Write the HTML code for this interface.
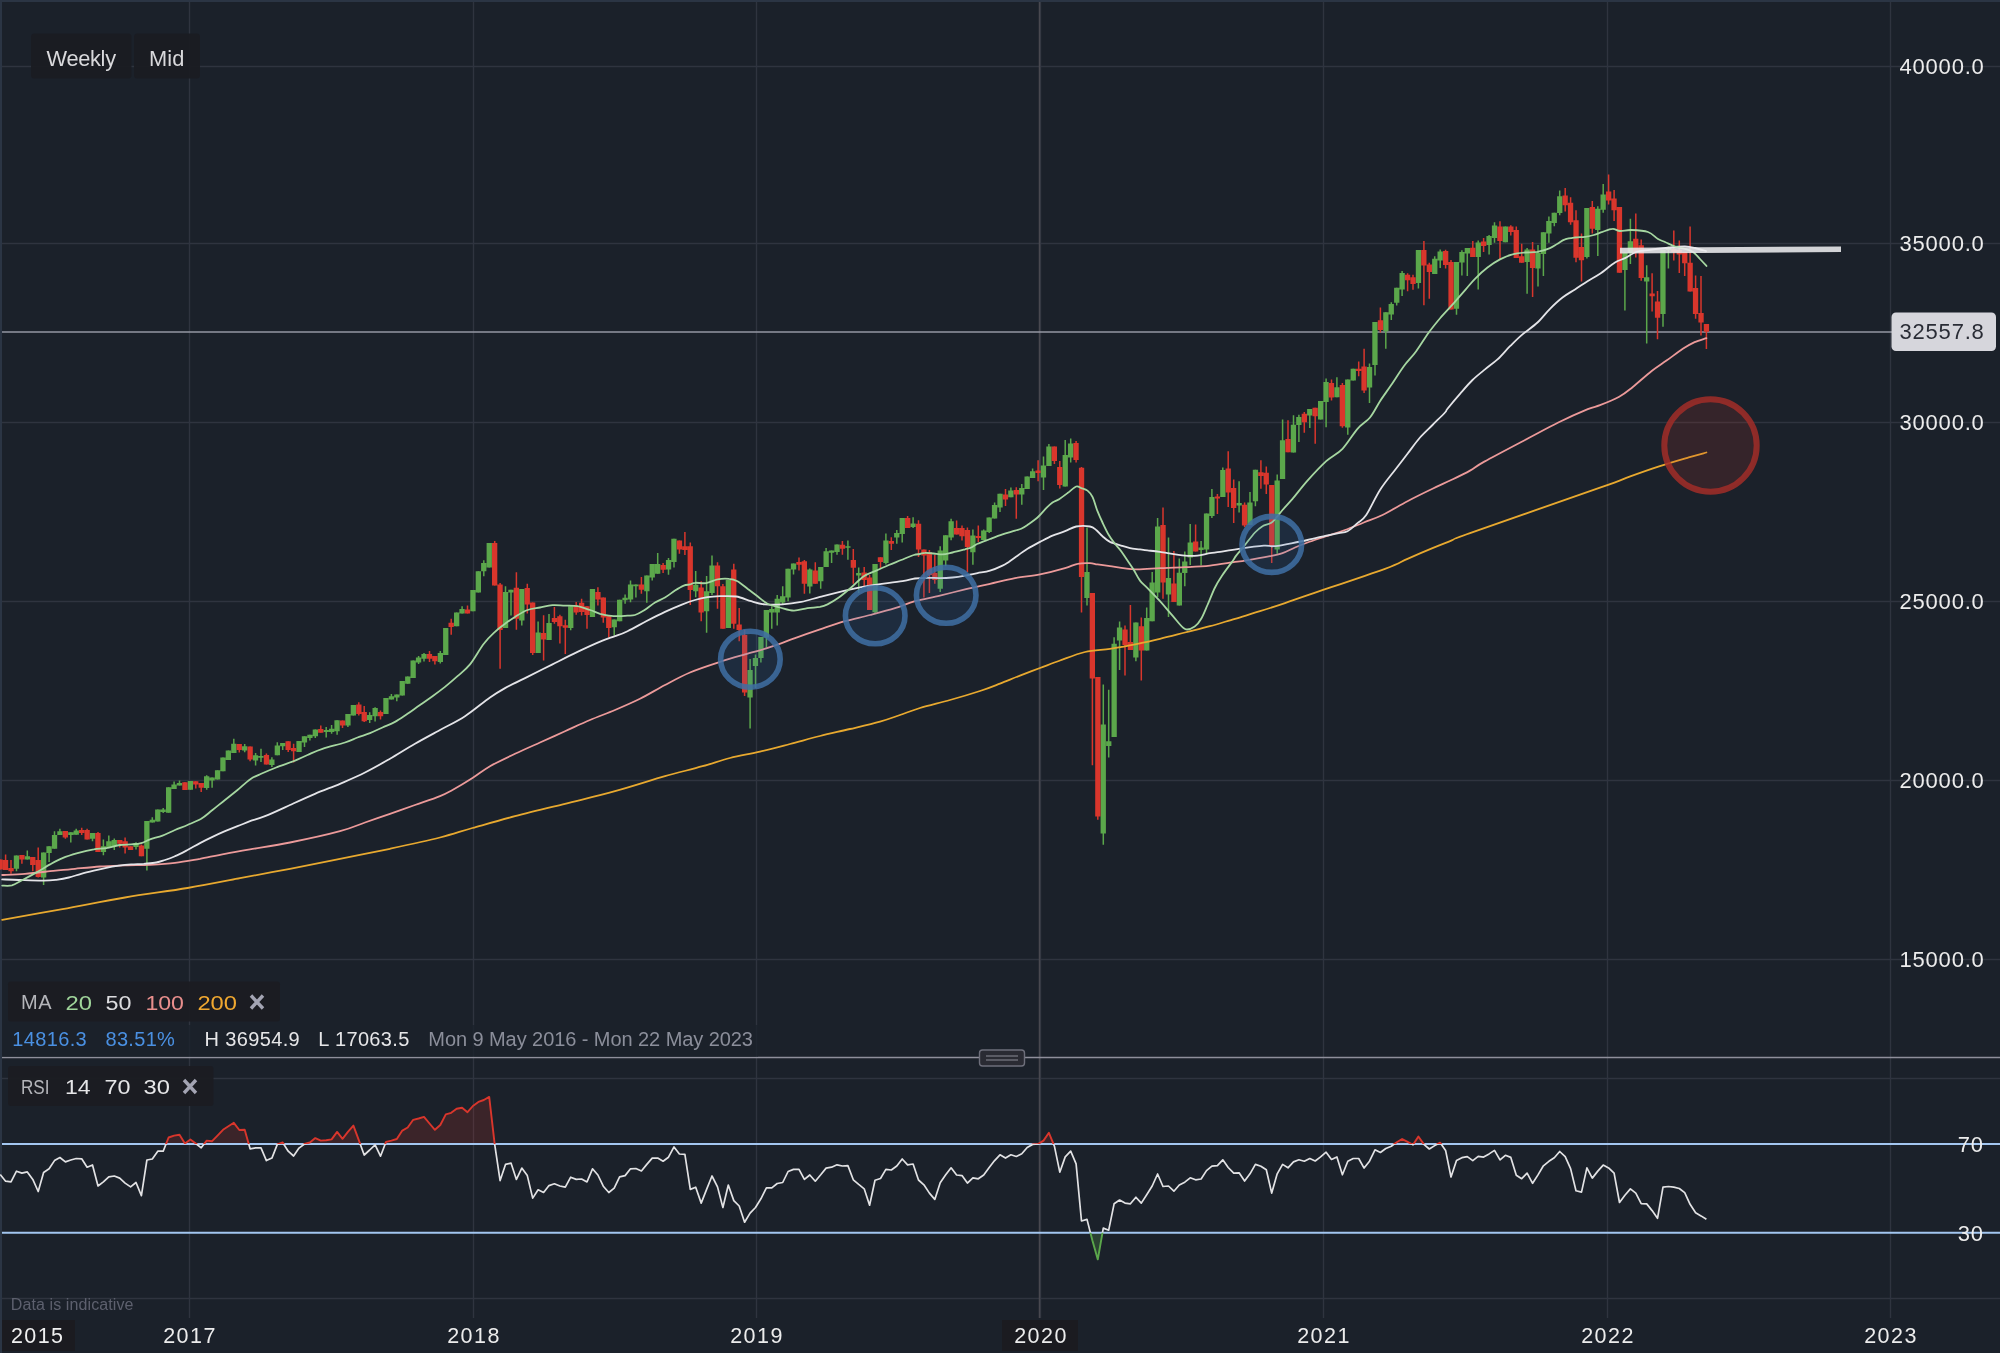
<!DOCTYPE html>
<html><head><meta charset="utf-8"><title>Wall Street weekly chart</title>
<style>html,body{margin:0;padding:0;background:#1b212a;width:2000px;height:1353px;overflow:hidden}
svg text{font-family:"Liberation Sans",sans-serif}</style></head>
<body>
<svg width="2000" height="1353" viewBox="0 0 2000 1353" style="display:block">
<rect width="2000" height="1353" fill="#1b212a"/>
<rect x="0" y="0" width="2000" height="2" fill="#2b3544"/>
<rect x="0" y="0" width="2" height="1353" fill="#2b3544"/>
<defs><filter id="idf" x="-5%" y="-50%" width="110%" height="200%" color-interpolation-filters="sRGB"><feOffset dx="0" dy="0"/></filter></defs>
<path d="M189.5,2V1318M473.5,2V1318M756.5,2V1318M1040.5,2V1318M1323.5,2V1318M1607.5,2V1318M1890.5,2V1318M2,66.5H2000M2,243.5H2000M2,422.5H2000M2,601.5H2000M2,780.5H2000M2,959.5H2000M2,1078.5H2000M2,1298.5H2000" stroke="#2f343f" stroke-width="1.35" fill="none"/>
<path d="M1039.5,2V1318" stroke="#48484f" stroke-width="1.5" fill="none"/>
<path d="M2,332H1892" stroke="#9497a3" stroke-width="1.4" fill="none"/>
<path d="M16.5,855.6V871.2M27.3,850.6V859.4M43.6,852.5V885M49.1,846.2V861.9M54.5,831.2V848.8M59.9,828.8V835M70.8,832.2V842.5M76.2,828.8V834.8M92.5,833.1V841.2M103.4,839.4V855.2M108.8,835.6V847.5M114.3,838.5V850M136,842.2V849.4M146.9,821V870.6M152.3,817.2V822.5M157.8,809.4V821.5M163.2,808.1V813.1M168.6,787.2V812.8M174.1,781.5V789M179.5,780.6V785.6M190.4,781V789.8M206.7,775.2V789.8M212.1,777.5V787.8M217.5,770.2V779.4M223,757.5V771.2M228.4,750.6V760M233.8,738.8V753.1M244.7,744V752.2M255.6,753.1V765.6M261,748.8V761.9M271.9,757.2V766.9M277.3,742.2V755.2M282.7,743.1V750M299,741V751.9M304.5,736.2V746.9M309.9,734.8V740.6M315.3,729.4V738.1M326.2,726.9V737.5M331.6,725V733.8M337.1,720.2V734.8M347.9,714V726.9M353.4,705V715.6M369.7,712.2V723.1M375.1,707.2V721.5M386,698.1V714M391.4,694V699.4M396.8,694.4V701.2M402.3,681V695.6M407.7,676.5V683.8M413.2,660.6V678.1M418.6,656V664M424,653.1V661.5M440.3,651V663.5M445.8,628.1V655M456.6,612.5V626.2M462.1,606.2V613.5M472.9,590V611.2M478.4,571.2V592.5M483.8,560.2V576.2M489.2,543.1V567.5M505.5,586.2V628.1M511,589.8V615.6M521.8,589V625.6M538.1,621.5V653.1M549,614V640M570.7,606.2V630.2M592.5,589V616.9M614.2,619.4V635.6M619.6,599.8V621.2M625.1,594.4V603.8M630.5,580.6V602.2M635.9,584.4V597.5M646.8,575.6V602.8M652.2,564V580.6M657.7,553.1V573.8M668.5,558.1V574.8M674,538.8V567.5M695.7,571V597.2M706.6,576V632.8M712,555.6V595M728.3,580V628.1M750.1,659V728.5M755.5,654.5V688M760.9,637V662.5M766.4,610V646.9M771.8,606.2V628.8M777.2,595V625.6M782.7,586.2V605M788.1,568.8V601.2M793.5,563.5V574.4M809.8,568.5V593.5M820.7,566.9V588.8M826.1,548.1V566.9M831.6,550.6V563.1M837,544.4V554.8M847.9,540.6V559.8M858.7,567.5V593.1M875,564V613.1M885.9,533.5V564.4M896.8,530V543.8M902.2,518.1V542.5M913.1,517.2V528.1M940.2,546.2V591.9M945.7,535.2V566.2M951.1,518.8V540.2M972.9,529.4V564.8M983.7,529.4V540M989.2,517.5V533.1M994.6,502.5V518.5M1000,493.8V511.9M1010.9,487.5V497.2M1021.8,484V504.8M1027.2,476.5V489M1032.6,468.5V478.1M1043.5,456.5V490M1048.9,444V466M1065.2,440V486.5M1070.7,438.5V462.5M1087,527.5V605.6M1103.3,684.6V844.7M1108.7,689.8V757.6M1114.1,637.2V737M1119.6,621.5V670M1135.9,622.5V661.2M1146.7,607.5V650.6M1152.2,571.9V621.2M1157.6,518V596.9M1168.5,537.5V616.9M1179.3,558.5V605.6M1184.8,551.5V586.2M1190.2,524V565M1201.1,541V565.6M1206.5,513.5V554M1211.9,489V518M1222.8,467.5V496.9M1239.1,481.2V512.5M1250,491.9V525M1255.4,469.8V506.2M1277.2,474.4V553.8M1282.6,419.4V479M1293.5,415.2V452.5M1298.9,414.8V441.9M1309.8,409V428.1M1320.6,401V419.4M1326.1,378.5V427.2M1336.9,377.2V397.2M1347.8,379.4V434.8M1353.2,368.8V380.6M1369.5,363.5V403.1M1375,321.9V375.6M1385.8,312.2V348.8M1391.3,302.2V320M1396.7,287.8V305.6M1402.1,271V296M1418.4,250V288.5M1434.7,256.2V274M1440.2,249.4V268.1M1456.5,261.9V314.8M1461.9,250.2V275.6M1467.3,248.1V276M1478.2,240.6V289.4M1489.1,235V254.4M1494.5,222.2V242.8M1505.4,226.5V242.2M1527.1,248.1V293.8M1538,245V286.5M1543.4,232.2V276M1548.9,216.5V242.8M1554.3,212.8V226.2M1559.7,190.6V215.2M1586.9,208.1V258.5M1597.8,206.2V256M1603.2,184V212.8M1624.9,252.5V310.5M1630.4,218.8V264M1646.7,265.2V343.6M1663,250V326.8M1668.4,246.5V268.5" stroke="#5ba74b" stroke-width="1.5" fill="none"/>
<path d="M0.2,859.4V869.4M5.6,854.4V870M11,860V873.8M21.9,855V863.8M32.8,856.9V871.2M38.2,847.5V877.5M65.4,831V838.8M81.7,827.8V835M87.1,828.8V839.4M98,831.9V851.9M119.7,840V847.5M125.1,837.5V853.5M130.6,846.2V850M141.4,844.4V856.2M184.9,782.2V790M195.8,781.2V788.5M201.2,783.1V791.9M239.3,744V752.5M250.1,746.5V761.2M266.4,753.5V764.4M288.2,741.2V751.9M293.6,743.8V762.5M320.8,725.6V732.8M342.5,720.6V728.1M358.8,702.2V715.6M364.2,706V721.9M380.5,710.6V719.4M429.5,651V661.9M434.9,656V664.4M451.2,618.8V634.8M467.5,605.6V613.5M494.7,541V585.6M500.1,583.1V668.8M516.4,572.2V629.8M527.3,583.8V613.5M532.7,602.5V655M543.6,615.2V660.6M554.4,606.9V623.8M559.9,614.8V643.5M565.3,619.8V654M576.2,601.9V614.8M581.6,598.8V615.6M587,606.2V628.8M597.9,587.2V605.6M603.3,597.5V622.8M608.8,615.6V637.5M641.4,576.9V593.8M663.1,563.1V573.1M679.4,540.6V553.8M684.9,531.9V555M690.3,542.5V605M701.2,581.2V621.2M717.5,562.2V608.8M722.9,584V628.8M733.8,563.8V628.8M739.2,608.1V641.2M744.6,630V696M799,557.5V570.6M804.4,560V593.8M815.3,562.2V583.8M842.4,541V554.8M853.3,549V583.8M864.2,566.9V586.2M869.6,575V610M880.5,557.2V568.8M891.3,537.2V550M907.6,516V528.1M918.5,520.2V556.9M923.9,549.4V597.5M929.4,550V593.1M934.8,555V583.8M956.6,520.6V534.4M962,525.6V540.6M967.4,527.5V571.9M978.3,525.4V541.9M1005.5,489V506M1016.3,487.2V518.8M1038.1,460.2V481.2M1054.4,446.5V464M1059.8,461V488.5M1076.1,441V462.5M1081.5,466.9V612.5M1092.4,593.1V765.3M1097.8,676.9V819.8M1125,625.6V675.6M1130.4,605V650M1141.3,617.5V680.6M1163,507.5V598.8M1173.9,551V601.9M1195.6,524.5V551.4M1217.4,494V514M1228.2,451.2V506.9M1233.7,479.4V523.1M1244.6,502.5V526.9M1260.9,460.2V488.8M1266.3,466.5V494M1271.7,485V563.1M1288,420.2V452.2M1304.3,411.9V432.8M1315.2,407.8V443.8M1331.5,379.4V400.6M1342.4,383.1V427.8M1358.7,361.5V376.2M1364.1,348.8V393.1M1380.4,307.5V332.5M1407.6,273.2V291.2M1413,274.8V289.8M1423.9,241V305.2M1429.3,262.8V298.8M1445.6,249.8V268.5M1451,260V309.4M1472.8,241V256.9M1483.6,238.1V251.9M1500,221.2V259M1510.8,225.2V235.6M1516.3,226.5V258.1M1521.7,243.8V262.8M1532.6,241.9V296.9M1565.2,188.1V211.5M1570.6,197.2V224.8M1576,210.2V262.2M1581.5,233.5V281.5M1592.3,201V233.5M1608.6,174.4V204.4M1614.1,190V221M1619.5,206.9V272.8M1635.8,213.5V257.5M1641.2,239.5V280.8M1652.1,273.2V311.5M1657.5,291V339.2M1673.8,230.5V260.5M1679.3,240.5V273M1684.7,252V276M1690.1,226.5V291.5M1695.6,275.5V318.8M1701,276V335.5M1706.4,324V349" stroke="#d9362c" stroke-width="1.5" fill="none"/>
<path d="M13.8,855.6h5.3V868.8h-5.3zM24.7,856.2h5.3V859.4h-5.3zM41,852.5h5.3V877.5h-5.3zM46.4,846.2h5.3V853.1h-5.3zM51.9,835h5.3V848.8h-5.3zM57.3,831.2h5.3V835h-5.3zM68.2,832.2h5.3V835h-5.3zM73.6,830.6h5.3V834.8h-5.3zM89.9,833.1h5.3V838.8h-5.3zM100.8,846.2h5.3V851.9h-5.3zM106.2,841.2h5.3V847.5h-5.3zM111.6,840h5.3V846.2h-5.3zM133.4,843.1h5.3V846.9h-5.3zM144.2,821h5.3V848.8h-5.3zM149.7,819.8h5.3V822.5h-5.3zM155.1,809.4h5.3V821.5h-5.3zM160.5,809.4h5.3V811.9h-5.3zM166,787.2h5.3V812.8h-5.3zM171.4,784.4h5.3V789h-5.3zM176.8,783.1h5.3V785.6h-5.3zM187.7,781h5.3V789.8h-5.3zM204,776.2h5.3V788.1h-5.3zM209.4,777.5h5.3V780.6h-5.3zM214.9,770.2h5.3V779.4h-5.3zM220.3,757.5h5.3V771.2h-5.3zM225.7,750.6h5.3V760h-5.3zM231.2,743.8h5.3V753.1h-5.3zM242,746.2h5.3V750.6h-5.3zM252.9,755.2h5.3V760.6h-5.3zM258.3,756h5.3V757.8h-5.3zM269.2,759.4h5.3V765h-5.3zM274.7,745.6h5.3V755.2h-5.3zM280.1,743.1h5.3V746.2h-5.3zM296.4,741h5.3V751.9h-5.3zM301.8,736.2h5.3V742.5h-5.3zM307.3,734.8h5.3V738.1h-5.3zM312.7,729.4h5.3V736.2h-5.3zM323.6,730h5.3V731.9h-5.3zM329,728.8h5.3V731.9h-5.3zM334.4,720.2h5.3V731.2h-5.3zM345.3,714h5.3V725.6h-5.3zM350.7,705h5.3V715.6h-5.3zM367,715h5.3V720h-5.3zM372.5,708.1h5.3V716.2h-5.3zM383.3,698.1h5.3V714h-5.3zM388.8,696.2h5.3V699.4h-5.3zM394.2,694.4h5.3V697.5h-5.3zM399.6,681h5.3V695.6h-5.3zM405.1,676.5h5.3V683.8h-5.3zM410.5,660.6h5.3V678.1h-5.3zM415.9,657.5h5.3V662.5h-5.3zM421.4,654h5.3V658.8h-5.3zM437.7,653.1h5.3V661.9h-5.3zM443.1,628.1h5.3V655h-5.3zM454,612.5h5.3V626.2h-5.3zM459.4,609h5.3V613.5h-5.3zM470.3,590h5.3V611.2h-5.3zM475.7,571.2h5.3V592.5h-5.3zM481.1,563.1h5.3V571.2h-5.3zM486.6,543.1h5.3V567.5h-5.3zM502.9,591.9h5.3V628.1h-5.3zM508.3,589.8h5.3V592.5h-5.3zM519.2,589h5.3V620.6h-5.3zM535.5,632.5h5.3V653.1h-5.3zM546.4,623.1h5.3V640h-5.3zM568.1,606.2h5.3V628.1h-5.3zM589.8,589h5.3V616.9h-5.3zM611.6,619.4h5.3V627.2h-5.3zM617,599.8h5.3V621.2h-5.3zM622.4,597.8h5.3V600.2h-5.3zM627.9,584.4h5.3V599.4h-5.3zM633.3,584.4h5.3V586.2h-5.3zM644.2,575.6h5.3V591.2h-5.3zM649.6,564h5.3V577.5h-5.3zM655,564h5.3V573.8h-5.3zM665.9,560h5.3V569.4h-5.3zM671.3,538.8h5.3V561.9h-5.3zM693.1,584.8h5.3V591.2h-5.3zM703.9,591.2h5.3V611.2h-5.3zM709.4,565.6h5.3V593.1h-5.3zM725.7,580h5.3V628.1h-5.3zM747.4,670h5.3V697.5h-5.3zM752.8,658h5.3V666h-5.3zM758.3,637h5.3V658h-5.3zM763.7,610h5.3V637.5h-5.3zM769.1,609h5.3V612.5h-5.3zM774.6,598.8h5.3V612.5h-5.3zM780,596.2h5.3V602.5h-5.3zM785.4,568.8h5.3V597.5h-5.3zM790.9,563.5h5.3V569.4h-5.3zM807.2,569.4h5.3V586.5h-5.3zM818.1,566.9h5.3V581.2h-5.3zM823.5,551.2h5.3V566.9h-5.3zM828.9,550.6h5.3V552.8h-5.3zM834.4,544.4h5.3V551.9h-5.3zM845.2,546.2h5.3V547.8h-5.3zM856.1,573.1h5.3V575.6h-5.3zM872.4,564h5.3V612.2h-5.3zM883.3,540.6h5.3V563.1h-5.3zM894.1,533.1h5.3V537.5h-5.3zM899.6,518.1h5.3V534h-5.3zM910.4,523.5h5.3V526.9h-5.3zM937.6,550.6h5.3V588.8h-5.3zM943,535.2h5.3V560.6h-5.3zM948.5,521.2h5.3V537.5h-5.3zM970.2,535.6h5.3V552.2h-5.3zM981.1,530.6h5.3V540h-5.3zM986.5,517.5h5.3V531.9h-5.3zM991.9,505h5.3V518.5h-5.3zM997.4,493.8h5.3V507.5h-5.3zM1008.2,490.6h5.3V497.2h-5.3zM1019.1,488.1h5.3V494.4h-5.3zM1024.5,476.5h5.3V489h-5.3zM1030,471.2h5.3V478.1h-5.3zM1040.8,465.5h5.3V477.5h-5.3zM1046.3,446.5h5.3V466h-5.3zM1062.6,455h5.3V486.5h-5.3zM1068,443.5h5.3V457.5h-5.3zM1084.3,571.9h5.3V598.1h-5.3zM1100.6,724.6h5.3V833.5h-5.3zM1106.1,741.2h5.3V746h-5.3zM1111.5,643.8h5.3V737h-5.3zM1116.9,627.5h5.3V640.6h-5.3zM1133.2,622.5h5.3V657.5h-5.3zM1144.1,618.1h5.3V650.6h-5.3zM1149.5,582.5h5.3V621.2h-5.3zM1155,526.5h5.3V592.5h-5.3zM1165.8,578.1h5.3V594.4h-5.3zM1176.7,572.8h5.3V605.6h-5.3zM1182.1,561.5h5.3V573.1h-5.3zM1187.6,542.5h5.3V557.5h-5.3zM1198.4,547.5h5.3V550h-5.3zM1203.9,513.5h5.3V549.5h-5.3zM1209.3,497h5.3V516h-5.3zM1220.2,470h5.3V496.9h-5.3zM1236.5,503.1h5.3V505.6h-5.3zM1247.3,502.5h5.3V525h-5.3zM1252.8,469.8h5.3V501.2h-5.3zM1274.5,480.6h5.3V549.4h-5.3zM1279.9,440.2h5.3V479h-5.3zM1290.8,424.8h5.3V452.5h-5.3zM1296.2,416.9h5.3V425h-5.3zM1307.1,409h5.3V415.6h-5.3zM1318,401h5.3V419.4h-5.3zM1323.4,381.9h5.3V401.9h-5.3zM1334.3,387.2h5.3V397.2h-5.3zM1345.1,379.4h5.3V427.5h-5.3zM1350.6,368.8h5.3V380.6h-5.3zM1366.9,366.9h5.3V387.5h-5.3zM1372.3,321.9h5.3V365h-5.3zM1383.2,312.2h5.3V331.2h-5.3zM1388.6,304h5.3V314.4h-5.3zM1394.1,287.8h5.3V302.8h-5.3zM1399.5,273.1h5.3V289.4h-5.3zM1415.8,250h5.3V283.1h-5.3zM1432.1,258.8h5.3V274h-5.3zM1437.5,251.5h5.3V260.6h-5.3zM1453.8,261.9h5.3V308.8h-5.3zM1459.3,251.9h5.3V262.5h-5.3zM1464.7,248.1h5.3V253.5h-5.3zM1475.6,242.5h5.3V256.9h-5.3zM1486.4,236h5.3V245h-5.3zM1491.9,225.6h5.3V238.1h-5.3zM1502.7,226.5h5.3V242.2h-5.3zM1524.5,249.4h5.3V261.9h-5.3zM1535.3,253.1h5.3V268.5h-5.3zM1540.8,232.2h5.3V254h-5.3zM1546.2,221h5.3V233.5h-5.3zM1551.6,212.8h5.3V223.1h-5.3zM1557.1,196.2h5.3V213.1h-5.3zM1584.2,208.1h5.3V256.9h-5.3zM1595.1,208.8h5.3V230h-5.3zM1600.5,194.4h5.3V209.8h-5.3zM1622.3,252.5h5.3V270h-5.3zM1627.7,241.2h5.3V253h-5.3zM1644,277.2h5.3V281.5h-5.3zM1660.3,250h5.3V314h-5.3zM1665.8,247.5h5.3V250h-5.3z" fill="#5ba74b"/>
<path d="M-2.5,859.4h5.3V869.4h-5.3zM2.9,860h5.3V870h-5.3zM8.4,868.1h5.3V871.2h-5.3zM19.3,855h5.3V859.4h-5.3zM30.1,856.9h5.3V865h-5.3zM35.6,860h5.3V876.9h-5.3zM62.7,831h5.3V837.5h-5.3zM79,830h5.3V833.1h-5.3zM84.5,830h5.3V839.4h-5.3zM95.3,833.1h5.3V851.9h-5.3zM117.1,840h5.3V843.8h-5.3zM122.5,841.2h5.3V847.5h-5.3zM127.9,846.2h5.3V850h-5.3zM138.8,845.6h5.3V856.2h-5.3zM182.3,782.2h5.3V790h-5.3zM193.1,781.2h5.3V784.4h-5.3zM198.6,783.1h5.3V787.8h-5.3zM236.6,744h5.3V750h-5.3zM247.5,746.5h5.3V759.4h-5.3zM263.8,755h5.3V764.4h-5.3zM285.5,741.2h5.3V750h-5.3zM291,748.1h5.3V751.2h-5.3zM318.1,729h5.3V732.8h-5.3zM339.9,720.6h5.3V725.6h-5.3zM356.2,704.4h5.3V714h-5.3zM361.6,711.9h5.3V721.2h-5.3zM377.9,711.9h5.3V716.2h-5.3zM426.8,654h5.3V658.8h-5.3zM432.2,656h5.3V661.2h-5.3zM448.5,622.8h5.3V626.9h-5.3zM464.8,609.4h5.3V613.5h-5.3zM492,543.1h5.3V585.6h-5.3zM497.4,584.4h5.3V630h-5.3zM513.7,587.8h5.3V618.8h-5.3zM524.6,588.1h5.3V604.4h-5.3zM530,602.5h5.3V653.1h-5.3zM540.9,633.1h5.3V639.4h-5.3zM551.8,618.1h5.3V621.9h-5.3zM557.2,616.2h5.3V626.2h-5.3zM562.7,625.2h5.3V627.8h-5.3zM573.5,606.2h5.3V612.5h-5.3zM579,602.8h5.3V611.9h-5.3zM584.4,606.2h5.3V615h-5.3zM595.3,591.9h5.3V599.4h-5.3zM600.7,597.5h5.3V617.5h-5.3zM606.1,615.6h5.3V628.1h-5.3zM638.7,584.4h5.3V589.8h-5.3zM660.5,565h5.3V569.8h-5.3zM676.8,540.6h5.3V549.4h-5.3zM682.2,546.2h5.3V550h-5.3zM687.6,546.2h5.3V590h-5.3zM698.5,587.5h5.3V612.5h-5.3zM714.8,565.6h5.3V586.2h-5.3zM720.2,586.2h5.3V628.8h-5.3zM731.1,569.4h5.3V623.8h-5.3zM736.5,624.4h5.3V630h-5.3zM742,635h5.3V692.5h-5.3zM796.3,561.9h5.3V564.8h-5.3zM801.7,561.2h5.3V583.8h-5.3zM812.6,570.6h5.3V583.8h-5.3zM839.8,544.8h5.3V548.8h-5.3zM850.7,560h5.3V567.8h-5.3zM861.5,572.5h5.3V580h-5.3zM867,577.5h5.3V610h-5.3zM877.8,557.2h5.3V561.9h-5.3zM888.7,541h5.3V543.8h-5.3zM905,518.1h5.3V528.1h-5.3zM915.9,523.8h5.3V549.4h-5.3zM921.3,549.4h5.3V555.6h-5.3zM926.7,552.5h5.3V575h-5.3zM932.2,573.1h5.3V580h-5.3zM953.9,528.1h5.3V534.4h-5.3zM959.3,528.1h5.3V536.2h-5.3zM964.8,530h5.3V546.9h-5.3zM975.6,536h5.3V538.1h-5.3zM1002.8,494.4h5.3V499.4h-5.3zM1013.7,490h5.3V494.4h-5.3zM1035.4,470.6h5.3V473.1h-5.3zM1051.7,446.5h5.3V461h-5.3zM1057.1,467h5.3V485h-5.3zM1073.4,443h5.3V460h-5.3zM1078.9,467.8h5.3V576.9h-5.3zM1089.7,593.1h5.3V678.5h-5.3zM1095.2,676.9h5.3V816.6h-5.3zM1122.4,629.4h5.3V645h-5.3zM1127.8,641.9h5.3V650h-5.3zM1138.7,626.2h5.3V650.6h-5.3zM1160.4,525h5.3V582.5h-5.3zM1171.3,583.5h5.3V601.9h-5.3zM1193,541.4h5.3V551.4h-5.3zM1214.7,496.5h5.3V498.5h-5.3zM1225.6,468.5h5.3V492.5h-5.3zM1231,488.1h5.3V508.1h-5.3zM1241.9,504.8h5.3V525.6h-5.3zM1258.2,472.2h5.3V476h-5.3zM1263.6,472.8h5.3V484.4h-5.3zM1269.1,485h5.3V546.2h-5.3zM1285.4,439h5.3V452.2h-5.3zM1301.7,413.8h5.3V422.2h-5.3zM1312.5,407.8h5.3V416.2h-5.3zM1328.8,383.1h5.3V397.5h-5.3zM1339.7,385h5.3V426.2h-5.3zM1356,368.8h5.3V371h-5.3zM1361.4,366.5h5.3V390.6h-5.3zM1377.8,320.2h5.3V330h-5.3zM1404.9,274.8h5.3V280.2h-5.3zM1410.4,277.2h5.3V284h-5.3zM1421.2,250h5.3V265.6h-5.3zM1426.7,264.4h5.3V271.9h-5.3zM1443,251h5.3V265h-5.3zM1448.4,261.9h5.3V309.4h-5.3zM1470.1,247.8h5.3V256.9h-5.3zM1481,241.5h5.3V246h-5.3zM1497.3,226.5h5.3V241h-5.3zM1508.2,226.5h5.3V231.9h-5.3zM1513.6,230h5.3V258.1h-5.3zM1519,256.2h5.3V262.8h-5.3zM1529.9,249.4h5.3V268.1h-5.3zM1562.5,195.6h5.3V205.2h-5.3zM1567.9,202.8h5.3V222.2h-5.3zM1573.4,220.2h5.3V257.8h-5.3zM1578.8,246.9h5.3V260.2h-5.3zM1589.7,206.9h5.3V228.8h-5.3zM1606,191.5h5.3V200.6h-5.3zM1611.4,198.5h5.3V210.2h-5.3zM1616.8,206.9h5.3V272.8h-5.3zM1633.1,238.8h5.3V252h-5.3zM1638.6,245.2h5.3V278h-5.3zM1649.5,293.5h5.3V296.2h-5.3zM1654.9,301.5h5.3V317.8h-5.3zM1671.2,249h5.3V252h-5.3zM1676.6,250h5.3V254.5h-5.3zM1682.1,252h5.3V263.2h-5.3zM1687.5,262.8h5.3V291.5h-5.3zM1692.9,288h5.3V314h-5.3zM1698.4,313h5.3V322.5h-5.3zM1703.8,324h5.3V331.8h-5.3z" fill="#d9362c"/>
<path d="M2.2,919.8C12.3,918 42,912.8 62.5,909.1C83,905.4 104.2,901 125,897.5C145.8,894 168.3,891.2 187.5,888C206.7,884.8 222.9,881.5 240,878.2C257.1,875 273.3,872 290,868.8C306.7,865.5 323.3,862.1 340,858.8C356.7,855.4 373.3,852.3 390,848.8C406.7,845.2 426.2,841 440,837.5C453.8,834 460,831.5 472.5,828C485,824.5 499.6,820.3 515,816.2C530.4,812.2 548.3,807.9 565,803.8C581.7,799.6 598.3,795.8 615,791.2C631.7,786.7 650.4,780.4 665,776.2C679.6,772.1 691.7,769.3 702.5,766.2C713.3,763.2 720.4,760.4 730,758C739.6,755.6 750,753.9 760,751.6C770,749.3 780,746.6 790,744C800,741.4 810,738.5 820,736C830,733.5 840,731.4 850,729C860,726.6 871.7,723.9 880,721.6C888.3,719.3 893.3,717.3 900,715C906.7,712.7 911.7,710.5 920,708C928.3,705.5 940,702.8 950,700C960,697.2 971.7,693.7 980,691C988.3,688.3 993.3,686.2 1000,683.6C1006.7,681 1013.3,678.2 1020,675.6C1026.7,673 1033.3,670.5 1040,668C1046.7,665.5 1052.5,663.2 1060,660.5C1067.5,657.8 1076.7,654 1085,652C1093.3,650 1101.7,650 1110,648.8C1118.3,647.5 1126.7,646.1 1135,644.4C1143.3,642.7 1151.7,640.7 1160,638.8C1168.3,636.8 1176.7,634.6 1185,632.5C1193.3,630.4 1201.7,628.5 1210,626.2C1218.3,624 1226.7,621.2 1235,618.8C1243.3,616.2 1251.7,613.9 1260,611.2C1268.3,608.6 1276.7,605.9 1285,603.1C1293.3,600.3 1293.3,600.1 1310,594.4C1326.7,588.7 1368.8,574.7 1385,568.8C1401.2,562.8 1399.6,562.2 1407.5,558.8C1415.4,555.3 1425.2,551.1 1432.5,548.1C1439.8,545.1 1445,543.1 1451.2,540.6C1457.5,538.1 1445.2,541.9 1470,533.1C1494.8,524.3 1573.4,497.1 1600,487.7C1626.6,478.3 1619.8,480.2 1629.6,476.6C1639.4,473 1649.2,469.5 1659.1,466.3C1668.9,463.1 1680.8,459.7 1688.7,457.4C1696.6,455.1 1703.5,453.3 1706.4,452.5" stroke="#e8a92f" stroke-width="1.8" fill="none" stroke-linejoin="round" stroke-linecap="round"/>
<path d="M2.2,875C6,874.8 17,874.4 25,873.8C33,873.1 41.7,872.1 50,871.2C58.3,870.4 66.7,869.5 75,868.8C83.3,868 91.7,867.1 100,866.5C108.3,865.9 116.7,865.7 125,865.4C133.3,865.1 141.7,865.2 150,864.8C158.3,864.3 166.7,863.8 175,862.8C183.3,861.8 191.7,860.2 200,858.8C208.3,857.2 216.7,855.3 225,853.8C233.3,852.2 239.2,851.2 250,849.4C260.8,847.5 275,845.5 290,842.5C305,839.5 327.5,834.6 340,831.2C352.5,827.9 356.7,825.4 365,822.5C373.3,819.6 381.7,816.7 390,813.8C398.3,810.8 406.7,807.9 415,805C423.3,802.1 433.8,798.8 440,796.2C446.2,793.8 447.1,793 452.5,790C457.9,787 466.2,782 472.5,778C478.8,774 482.9,770.3 490,766.2C497.1,762.2 506.7,757.7 515,753.8C523.3,749.8 531.7,746.2 540,742.5C548.3,738.8 556.7,735 565,731.2C573.3,727.5 581.7,723.5 590,720C598.3,716.5 606.7,713.5 615,710C623.3,706.5 631.7,702.9 640,698.8C648.3,694.6 656.7,689.4 665,685C673.3,680.6 680.8,676.4 690,672.5C699.2,668.6 710.8,664.9 720,661.9C729.2,658.9 736.7,656.8 745,654.4C753.3,651.9 761.7,650 770,647.2C778.3,644.5 786.7,641.1 795,638.1C803.3,635.1 811.7,632.2 820,629.4C828.3,626.6 836.7,623.6 845,621.2C853.3,618.9 861.7,617.2 870,615C878.3,612.8 887.5,610.4 895,608.1C902.5,605.8 907.5,603.3 915,601.2C922.5,599.2 931.7,597.6 940,595.6C948.3,593.6 956.7,591.4 965,589.4C973.3,587.4 981.7,585.6 990,583.8C998.3,581.9 1006.7,579.7 1015,578.1C1023.3,576.6 1031.7,576 1040,574.4C1048.3,572.7 1058.8,569.9 1065,568.1C1071.2,566.4 1073.3,564.6 1077.5,563.8C1081.7,562.9 1086.7,563 1090,563.1C1093.3,563.2 1094.2,563.9 1097.5,564.4C1100.8,564.9 1103.8,565.4 1110,566.2C1116.2,567.1 1126.7,569.1 1135,569.4C1143.3,569.7 1151.7,568.5 1160,568.1C1168.3,567.8 1176.7,567.7 1185,567.2C1193.3,566.8 1201.7,566.5 1210,565.6C1218.3,564.7 1229.2,562.7 1235,561.9C1240.8,561 1239.2,561.6 1245,560.6C1250.8,559.7 1263.8,557.5 1270,556.2C1276.2,555 1278.3,554.6 1282.5,553.1C1286.7,551.7 1290.8,549.3 1295,547.5C1299.2,545.7 1302.3,544.4 1307.5,542.5C1312.7,540.6 1320,538.3 1326.2,536.2C1332.5,534.2 1338.8,532.3 1345,530C1351.2,527.7 1357.5,525 1363.8,522.5C1370,520 1375.2,518.5 1382.5,515C1389.8,511.5 1399.2,505.6 1407.5,501.2C1415.8,496.9 1425.2,492.3 1432.5,488.8C1439.8,485.2 1445,483 1451.2,480C1457.5,477 1464.5,473.7 1470,470.6C1475.5,467.6 1474.5,467 1484.3,461.6C1494.1,456.2 1516.4,444.5 1528.7,438C1541,431.5 1548.5,427.3 1558.3,422.5C1568.1,417.7 1580.8,412.1 1587.8,409.2C1594.8,406.3 1594.8,407.3 1600,405.2C1605.2,403.2 1613.8,399.8 1619.2,396.8C1624.6,393.8 1627.1,391.5 1632.5,387.2C1637.9,382.9 1646.1,375.4 1651.7,371C1657.4,366.5 1661.3,364.3 1666.5,360.6C1671.7,356.9 1678.1,351.9 1682.8,348.8C1687.5,345.7 1690.7,343.9 1694.6,342.1C1698.5,340.4 1704.5,338.8 1706.4,338.1" stroke="#ec9a9a" stroke-width="1.8" fill="none" stroke-linejoin="round" stroke-linecap="round"/>
<path d="M2.2,879.4C5,879.5 11.8,879.8 18.8,880C25.7,880.2 37.5,880.7 43.8,880.6C50,880.6 52.1,880.3 56.2,879.8C60.4,879.2 64.6,878.5 68.8,877.5C72.9,876.5 77.1,874.9 81.2,873.8C85.4,872.6 89.6,871.6 93.8,870.6C97.9,869.6 102.1,868.6 106.2,867.8C110.4,866.9 114.6,866.2 118.8,865.6C122.9,865.1 127.1,864.7 131.2,864.4C135.4,864.1 139.6,864.1 143.8,863.8C147.9,863.4 152.7,863.1 156.2,862.5C159.8,861.9 161.9,861 165,860C168.1,859 171.2,857.9 175,856.2C178.8,854.6 183.3,852.2 187.5,850C191.7,847.8 195.8,845.3 200,843.1C204.2,840.9 208.3,838.9 212.5,836.9C216.7,834.9 220.8,833 225,831.2C229.2,829.5 233.3,827.9 237.5,826.2C241.7,824.6 245.4,822.9 250,821.2C254.6,819.6 258.3,819 265,816.2C271.7,813.5 281.7,808.8 290,805C298.3,801.2 306.7,797.3 315,793.8C323.3,790.2 331.7,787.3 340,783.8C348.3,780.2 356.7,776.7 365,772.5C373.3,768.3 381.7,763.5 390,758.8C398.3,754 406.7,748.5 415,743.8C423.3,739 431.7,734.6 440,730C448.3,725.4 456.7,721.7 465,716.2C473.3,710.8 483.3,702.2 490,697.5C496.7,692.8 498.8,691.6 505,688.1C511.2,684.7 519.6,680.8 527.5,676.9C535.4,672.9 544.2,668.5 552.5,664.4C560.8,660.2 569.2,655.8 577.5,651.9C585.8,647.9 596.2,643.2 602.5,640.6C608.8,638 610.8,637.8 615,636.2C619.2,634.7 622.3,633.8 627.5,631.2C632.7,628.8 640,624.5 646.2,621.2C652.5,618 659,614.7 665,611.9C671,609.1 677.5,606.4 682.5,604.4C687.5,602.4 690.8,601.2 695,600C699.2,598.8 703.3,597.9 707.5,597.2C711.7,596.6 715.2,596.4 720,596.2C724.8,596.1 731,595.7 736.2,596.5C741.5,597.3 746.5,599.9 751.2,601.2C756,602.6 759.8,603.9 765,604.4C770.2,604.9 776.5,604.8 782.5,604.4C788.5,604 795,603.1 801.2,601.9C807.5,600.6 812.7,598.8 820,596.9C827.3,595 836.7,592.5 845,590.6C853.3,588.8 860.4,587.2 870,585.6C879.6,584.1 895,582.4 902.5,581.2C910,580.1 910.8,579.1 915,578.5C919.2,577.9 923.3,577.8 927.5,577.8C931.7,577.7 935.8,578.2 940,578.1C944.2,578.1 948.3,577.9 952.5,577.5C956.7,577.1 960.8,576.4 965,575.6C969.2,574.9 973.3,574 977.5,573.1C981.7,572.3 985.8,571.9 990,570.6C994.2,569.4 999.4,567.1 1002.5,565.6C1005.6,564.2 1006.7,563.2 1008.8,561.9C1010.8,560.5 1011.9,559.7 1015,557.5C1018.1,555.3 1023.3,551.4 1027.5,548.8C1031.7,546.1 1035.8,544.1 1040,541.9C1044.2,539.7 1048.3,537.4 1052.5,535.6C1056.7,533.9 1061,532.8 1065,531.2C1069,529.7 1072.1,527.3 1076.2,526.5C1080.4,525.7 1086.7,525.9 1090,526.5C1093.3,527.1 1094.2,528.4 1096.2,530C1098.3,531.6 1100.2,534.3 1102.5,536.2C1104.8,538.2 1106.9,540.3 1110,541.9C1113.1,543.4 1117.9,544.6 1121.2,545.6C1124.6,546.7 1126.9,547.5 1130,548.1C1133.1,548.8 1137.1,549 1140,549.4C1142.9,549.8 1144.2,550 1147.5,550.4C1150.8,550.8 1153.8,551 1160,551.9C1166.2,552.8 1178.8,555 1185,555.6C1191.2,556.2 1193.3,556 1197.5,555.6C1201.7,555.2 1206.2,553.8 1210,553.1C1213.8,552.5 1215.2,552.6 1220,551.9C1224.8,551.1 1231.5,549.8 1238.8,548.8C1246,547.7 1257.9,546 1263.8,545.6C1269.6,545.2 1269.6,546.6 1273.8,546.2C1277.9,545.9 1283.1,544.8 1288.8,543.8C1294.4,542.7 1301.2,541.4 1307.5,540C1313.8,538.6 1321,536.8 1326.2,535.6C1331.5,534.5 1335.2,533.9 1338.8,533.1C1342.3,532.4 1344.4,532.9 1347.5,531.2C1350.6,529.6 1354.4,525.8 1357.5,523.1C1360.6,520.4 1362.5,520.5 1366.2,515C1370,509.5 1375.2,497.5 1380,490C1384.8,482.5 1390.4,476 1395,470C1399.6,464 1403.3,459.2 1407.5,453.8C1411.7,448.3 1415.8,442.3 1420,437.5C1424.2,432.7 1428.3,429.2 1432.5,425C1436.7,420.8 1442.5,415.2 1445,412.5C1447.5,409.8 1445,411.9 1447.5,408.8C1450,405.6 1455.8,398.5 1460,393.8C1464.2,389 1468.3,384.1 1472.5,380C1476.7,375.9 1480.8,372.8 1485,369.4C1489.2,365.9 1493.3,363.2 1497.5,359.4C1501.7,355.5 1505.8,350.4 1510,346.2C1514.2,342.1 1517.9,338.3 1522.5,334.4C1527.1,330.4 1532.9,326.8 1537.5,322.5C1542.1,318.2 1545.8,312.9 1550,308.8C1554.2,304.6 1558.3,300.7 1562.5,297.5C1566.7,294.3 1570.8,292.1 1575,289.4C1579.2,286.7 1583.3,283.9 1587.5,281.2C1591.7,278.6 1595.4,276.9 1600,273.8C1604.6,270.6 1610.8,265.1 1615,262.5C1619.2,259.9 1621.5,259.9 1625,258.1C1628.5,256.4 1631.8,253.4 1636,252C1640.2,250.6 1644.3,250.6 1650,249.8C1655.7,249.1 1664.2,248.1 1670,247.5C1675.8,246.9 1680.8,246.4 1685,246.5C1689.2,246.6 1691.5,247.2 1695,248C1698.5,248.8 1704.2,250.5 1706,251" stroke="#e4e4e8" stroke-width="1.8" fill="none" stroke-linejoin="round" stroke-linecap="round"/>
<path d="M2.2,885.6C3.9,885.6 8.5,886.3 11.9,885.4C15.2,884.4 18.2,882.2 22.5,880C26.8,877.8 32.9,874.5 37.5,871.9C42.1,869.3 45.8,866.7 50,864.4C54.2,862.1 57.9,860 62.5,858.1C67.1,856.2 72.3,854.6 77.5,853.1C82.7,851.7 89,850.2 93.8,849.4C98.5,848.5 101.9,848.9 106.2,848.1C110.6,847.4 115.8,845.6 120,845C124.2,844.4 127.7,844.7 131.2,844.4C134.8,844.1 138.1,844 141.2,843.1C144.4,842.3 146.5,840.6 150,839.4C153.5,838.1 158.3,837.2 162.5,835.6C166.7,834.1 170.8,831.8 175,830C179.2,828.2 183.1,826.9 187.5,825C191.9,823.1 197.1,821.2 201.2,818.8C205.4,816.2 208.5,813.1 212.5,810C216.5,806.9 220.8,803.3 225,800C229.2,796.7 233.3,793.4 237.5,790C241.7,786.6 246,782.1 250,779.4C254,776.7 256.9,775.7 261.2,773.8C265.6,771.8 270.6,769.7 276.2,767.5C281.9,765.3 289.8,762.7 295,760.6C300.2,758.5 302.9,757 307.5,755C312.1,753 316.2,750.8 322.5,748.8C328.8,746.7 339.2,744.4 345,742.5C350.8,740.6 353.3,739.1 357.5,737.5C361.7,735.9 365.8,734.8 370,733.1C374.2,731.5 378.3,729.4 382.5,727.5C386.7,725.6 390.8,724.2 395,721.9C399.2,719.6 403.3,716.6 407.5,713.8C411.7,710.9 415.8,707.9 420,705C424.2,702.1 428.3,699.3 432.5,696.2C436.7,693.2 440.8,690.2 445,686.9C449.2,683.5 453.3,680 457.5,676.2C461.7,672.5 465.6,669.8 470,664.4C474.4,659 479.6,649.2 483.8,643.8C487.9,638.3 491.5,635.2 495,631.9C498.5,628.5 501.7,626.2 505,623.8C508.3,621.2 511.2,619.2 515,616.9C518.8,614.6 523.3,611.6 527.5,610C531.7,608.4 535.8,608.3 540,607.5C544.2,606.7 548.3,605.6 552.5,605.2C556.7,604.9 560.8,605.5 565,605.6C569.2,605.8 573.3,605.5 577.5,606.2C581.7,607 586.2,608.8 590,610C593.8,611.2 596.9,612.8 600,613.8C603.1,614.7 605.6,615.2 608.8,615.6C611.9,616 615.6,616.2 618.8,616.2C621.9,616.2 624.8,615.8 627.5,615.6C630.2,615.4 632.3,615.8 635,615C637.7,614.2 640.4,612.7 643.8,610.6C647.1,608.5 651.5,604.7 655,602.5C658.5,600.3 661.7,599.5 665,597.5C668.3,595.5 671.9,592.6 675,590.6C678.1,588.6 681.2,586.7 683.8,585.6C686.2,584.6 688.1,584.9 690,584.4C691.9,583.9 692.3,583 695,582.8C697.7,582.5 702.5,583.7 706.2,583.1C710,582.6 713.8,580.1 717.5,579.4C721.2,578.6 725.4,578.4 728.8,578.8C732.1,579.1 734.4,579.6 737.5,581.2C740.6,582.9 744.2,586.2 747.5,588.8C750.8,591.2 754.2,593.8 757.5,596.2C760.8,598.8 763.8,601.9 767.5,603.8C771.2,605.6 775.6,606.4 780,607.5C784.4,608.6 789.2,610.5 793.8,610.6C798.3,610.7 803.1,608.8 807.5,608.1C811.9,607.5 816.7,607.5 820,606.9C823.3,606.2 824.4,605.9 827.5,604.4C830.6,602.8 834.8,600.3 838.8,597.5C842.7,594.7 847.1,591 851.2,587.5C855.4,584 859.6,579.1 863.8,576.2C867.9,573.4 872.1,572.5 876.2,570.6C880.4,568.8 884.6,566.8 888.8,565C892.9,563.2 897.1,561.7 901.2,560C905.4,558.3 910.6,556 913.8,555C916.9,554 918.1,554.4 920,554C921.9,553.6 922.7,552.8 925,552.8C927.3,552.7 930.8,553.2 933.8,553.5C936.7,553.8 939.4,554.5 942.5,554.4C945.6,554.2 948.8,553.3 952.5,552.5C956.2,551.7 961.9,550.2 965,549.4C968.1,548.5 969.2,548.4 971.2,547.5C973.3,546.6 974.4,545.2 977.5,543.8C980.6,542.3 985.8,540.6 990,539C994.2,537.4 998.3,535.8 1002.5,534.4C1006.7,533 1011.9,531.6 1015,530.6C1018.1,529.7 1019.2,529.7 1021.2,528.8C1023.3,527.8 1024.8,526.9 1027.5,525C1030.2,523.1 1034.4,520.3 1037.5,517.5C1040.6,514.7 1043.8,510.6 1046.2,508.1C1048.8,505.6 1050.4,504 1052.5,502.5C1054.6,501 1056.2,500.9 1058.8,499.4C1061.2,497.8 1064.6,495.3 1067.5,493.1C1070.4,491 1074,487.3 1076.2,486.5C1078.5,485.7 1079.4,487.4 1081.2,488.1C1083.1,488.8 1085.6,489.2 1087.5,490.6C1089.4,492.1 1090.8,493.4 1092.5,496.9C1094.2,500.3 1095.8,507 1097.5,511.2C1099.2,515.5 1100.6,518.5 1102.5,522.5C1104.4,526.5 1106.7,531.5 1108.8,535C1110.8,538.5 1112.9,541 1115,543.8C1117.1,546.5 1119.2,548.4 1121.2,551.2C1123.3,554.1 1125.4,557.5 1127.5,560.6C1129.6,563.8 1131.7,566.7 1133.8,570C1135.8,573.3 1137.7,577.6 1140,580.6C1142.3,583.6 1144.2,584.7 1147.5,588.1C1150.8,591.6 1155.8,596.7 1160,601.2C1164.2,605.8 1168.3,611 1172.5,615.6C1176.7,620.2 1181.2,627.2 1185,629C1188.8,630.8 1192.3,628 1195,626.2C1197.7,624.5 1199.2,622.3 1201.2,618.8C1203.3,615.2 1205.2,610.2 1207.5,605C1209.8,599.8 1212.5,592.5 1215,587.5C1217.5,582.5 1219.6,579.4 1222.5,575C1225.4,570.6 1230.2,564.5 1232.5,561.2C1234.8,558 1234.2,558.3 1236.2,555.6C1238.3,552.9 1241.9,548.9 1245,545C1248.1,541.1 1252.1,535.6 1255,532.5C1257.9,529.4 1259.6,528 1262.5,526.2C1265.4,524.5 1269.2,524.6 1272.5,521.9C1275.8,519.2 1279.2,513.9 1282.5,510C1285.8,506.1 1288.3,503.6 1292.5,498.8C1296.7,493.9 1301.9,486.9 1307.5,480.6C1313.1,474.4 1320.4,466.6 1326.2,461.2C1332.1,455.9 1337.3,454.2 1342.5,448.8C1347.7,443.3 1352.9,434 1357.5,428.8C1362.1,423.5 1366.2,422.1 1370,417.5C1373.8,412.9 1376.5,406.7 1380,401.2C1383.5,395.8 1387.3,390.8 1391.2,385C1395.2,379.2 1399.6,371.9 1403.8,366.2C1407.9,360.6 1412.1,356.9 1416.2,351.2C1420.4,345.6 1424.6,338.2 1428.8,332.5C1432.9,326.8 1437.1,321.8 1441.2,316.9C1445.4,312 1449.6,307.8 1453.8,303.1C1457.9,298.4 1462.7,292.8 1466.2,288.8C1469.8,284.7 1471.5,282.3 1475,278.8C1478.5,275.2 1483.3,270.7 1487.5,267.5C1491.7,264.3 1495.8,261.6 1500,259.4C1504.2,257.2 1508.3,255.5 1512.5,254.4C1516.7,253.2 1520.8,252.9 1525,252.5C1529.2,252.1 1533.3,252.6 1537.5,251.9C1541.7,251.1 1546.7,249.5 1550,248.1C1553.3,246.8 1555,245.2 1557.5,243.8C1560,242.3 1562.1,240.4 1565,239.4C1567.9,238.3 1571.7,237.9 1575,237.5C1578.3,237.1 1581.9,237.3 1585,236.9C1588.1,236.5 1590.8,235.8 1593.8,235C1596.7,234.2 1599.4,232.9 1602.5,231.9C1605.6,230.8 1609.6,228.9 1612.5,228.8C1615.4,228.6 1616.9,230.8 1620,231C1623.1,231.2 1626.6,229.8 1631.2,230C1635.9,230.2 1643.5,230.5 1648,232C1652.5,233.5 1655.2,237.3 1658,239C1660.8,240.7 1662.2,240.8 1665,242C1667.8,243.2 1671.7,245.4 1675,246.5C1678.3,247.6 1682,247.9 1685,248.8C1688,249.7 1690.5,250.3 1693,252C1695.5,253.7 1697.8,256.7 1700,259C1702.2,261.3 1705.4,264.8 1706.5,266" stroke="#a6d7a1" stroke-width="1.8" fill="none" stroke-linejoin="round" stroke-linecap="round"/>
<path d="M1620,250.6L1841,249.2" stroke="#ececee" stroke-opacity="0.88" stroke-width="5.6" fill="none"/>
<ellipse cx="750.4" cy="659.2" rx="29.8" ry="28" fill="#2f6fb8" fill-opacity="0.14" stroke="#3f6fa3" stroke-opacity="0.86" stroke-width="5.6"/>
<ellipse cx="875.2" cy="615.8" rx="29.8" ry="28" fill="#2f6fb8" fill-opacity="0.14" stroke="#3f6fa3" stroke-opacity="0.86" stroke-width="5.6"/>
<ellipse cx="946.2" cy="595.3" rx="29.8" ry="28" fill="#2f6fb8" fill-opacity="0.14" stroke="#3f6fa3" stroke-opacity="0.86" stroke-width="5.6"/>
<ellipse cx="1271.8" cy="544.4" rx="29.8" ry="28" fill="#2f6fb8" fill-opacity="0.14" stroke="#3f6fa3" stroke-opacity="0.86" stroke-width="5.6"/>
<circle cx="1710.5" cy="445.5" r="46.2" fill="#c0392b" fill-opacity="0.16" stroke="#a12d28" stroke-opacity="0.85" stroke-width="6"/>
<path d="M2,1057.5H2000" stroke="#8f8f9b" stroke-width="1.5" fill="none"/>
<rect x="979.5" y="1050" width="45" height="16" rx="3" fill="#2a2b33" stroke="#6e6f7b" stroke-width="1.4"/>
<path d="M986,1056H1018M986,1060H1018" stroke="#8a8b96" stroke-width="1.2"/>
<defs><clipPath id="c70"><rect x="0" y="1060" width="2000" height="84.0"/></clipPath><clipPath id="c30"><rect x="0" y="1232.7" width="2000" height="90"/></clipPath><clipPath id="cmid"><rect x="0" y="1144.0" width="2000" height="88.70000000000005"/></clipPath></defs>
<path d="M0.2,1174.5L5.6,1181.2L11,1181.9L16.5,1171.2L21.9,1173.1L27.3,1171.9L32.8,1179.4L38.2,1191.5L43.6,1172.5L49.1,1168.8L54.5,1160.6L59.9,1157.5L65.4,1161.9L70.8,1160L76.2,1158.5L81.7,1158.8L87.1,1167.2L92.5,1165L98,1186L103.4,1181.9L108.8,1176.9L114.3,1176L119.7,1178.1L125.1,1183.1L130.6,1186.9L136,1182.5L141.4,1195.6L146.9,1160L152.3,1159L157.8,1151.2L163.2,1151.2L168.6,1137.5L174.1,1135.6L179.5,1134.8L184.9,1143.5L190.4,1139.4L195.8,1143.5L201.2,1147.8L206.7,1140.6L212.1,1141.2L217.5,1135.6L223,1129.8L228.4,1126.2L233.8,1122.8L239.3,1130L244.7,1129.8L250.1,1148.8L255.6,1147.8L261,1147.8L266.4,1160.6L271.9,1158.1L277.3,1144.4L282.7,1142.5L288.2,1151.2L293.6,1156L299,1148.1L304.5,1144L309.9,1142.5L315.3,1138.1L320.8,1140.6L326.2,1140.2L331.6,1139.4L337.1,1131.9L342.5,1138.8L347.9,1131.9L353.4,1125.6L358.8,1140.2L364.2,1155L369.7,1150L375.1,1144.8L380.5,1156.2L386,1141.9L391.4,1140.6L396.8,1139L402.3,1130.6L407.7,1127.5L413.2,1119.8L418.6,1118.5L424,1116.9L429.5,1123.5L434.9,1129.8L440.3,1125L445.8,1114.4L451.2,1112.8L456.6,1108.8L462.1,1107.8L467.5,1112.2L472.9,1106L478.4,1101.9L483.8,1100L489.2,1096.9L494.7,1144.4L500.1,1180.6L505.5,1164.4L511,1163.1L516.4,1179.4L521.8,1168.1L527.3,1175.6L532.7,1198.1L538.1,1189.8L543.6,1192.5L549,1185.6L554.4,1183.8L559.9,1186L565.3,1187.2L570.7,1177.2L576.2,1179.4L581.6,1179L587,1181.9L592.5,1168.8L597.9,1175L603.3,1186.2L608.8,1192.5L614.2,1188.1L619.6,1176.9L625.1,1175.6L630.5,1168.8L635.9,1168.5L641.4,1171L646.8,1164.4L652.2,1158.1L657.7,1158.1L663.1,1161.2L668.5,1157.2L674,1146.9L679.4,1154L684.9,1154.4L690.3,1189.4L695.7,1187.2L701.2,1203.1L706.6,1189.4L712,1176L717.5,1186.9L722.9,1207.5L728.3,1185L733.8,1200.6L739.2,1206L744.6,1222.2L750.1,1213.1L755.5,1207.5L760.9,1198.8L766.4,1187.8L771.8,1187.8L777.2,1183.5L782.7,1182.5L788.1,1171.5L793.5,1169.4L799,1169.4L804.4,1179.4L809.8,1175L815.3,1181.2L820.7,1174.8L826.1,1168.1L831.6,1167.2L837,1164.8L842.4,1166L847.9,1165.6L853.3,1179.8L858.7,1184.4L864.2,1188.8L869.6,1205.2L875,1180.2L880.5,1178.5L885.9,1169.4L891.3,1170L896.8,1166L902.2,1159L907.6,1164.8L913.1,1164L918.5,1180L923.9,1184.8L929.4,1193.1L934.8,1199.4L940.2,1182.8L945.7,1174.8L951.1,1167.8L956.6,1175L962,1175.6L967.4,1183.1L972.9,1177.8L978.3,1178.8L983.7,1175L989.2,1167.5L994.6,1160.6L1000,1154.8L1005.5,1158.1L1010.9,1154.8L1016.3,1156.5L1021.8,1153.8L1027.2,1147.5L1032.6,1144.4L1038.1,1144L1043.5,1140.6L1048.9,1132.8L1054.4,1146.2L1059.8,1172.2L1065.2,1156.9L1070.7,1151.2L1076.1,1163.8L1081.5,1221L1087,1219.4L1092.4,1240.6L1097.8,1259.4L1103.3,1228.1L1108.7,1230.2L1114.1,1203.8L1119.6,1200L1125,1203.1L1130.4,1203.8L1135.9,1197.2L1141.3,1203.1L1146.7,1194.8L1152.2,1186L1157.6,1174L1163,1186.5L1168.5,1186L1173.9,1191.2L1179.3,1185L1184.8,1182.2L1190.2,1177.8L1195.6,1179.8L1201.1,1179L1206.5,1170.6L1211.9,1166.2L1217.4,1165.6L1222.8,1159.8L1228.2,1167.5L1233.7,1173.1L1239.1,1172.8L1244.6,1181L1250,1173.8L1255.4,1164.4L1260.9,1166.2L1266.3,1169.8L1271.7,1193.1L1277.2,1173.8L1282.6,1164.4L1288,1167.8L1293.5,1161.9L1298.9,1159.8L1304.3,1161.2L1309.8,1158.5L1315.2,1161L1320.6,1156.9L1326.1,1152.2L1331.5,1159.4L1336.9,1156.9L1342.4,1174.8L1347.8,1161.2L1353.2,1158.5L1358.7,1158.5L1364.1,1168.1L1369.5,1161.2L1375,1149.8L1380.4,1152.5L1385.8,1148.5L1391.3,1146.2L1396.7,1142.2L1402.1,1139L1407.6,1141.9L1413,1144.8L1418.4,1136.5L1423.9,1144.4L1429.3,1149L1434.7,1145.6L1440.2,1142.7L1445.6,1150.4L1451,1177L1456.5,1160.5L1461.9,1157.7L1467.3,1156.6L1472.8,1160.6L1478.2,1156.4L1483.6,1157.1L1489.1,1153.9L1494.5,1150.4L1500,1159.9L1505.4,1155.3L1510.8,1157.4L1516.3,1175.3L1521.7,1178.7L1527.1,1173.1L1532.6,1183.3L1538,1174.9L1543.4,1165.8L1548.9,1161.3L1554.3,1157.7L1559.7,1151.5L1565.2,1156.7L1570.6,1168.6L1576,1190.7L1581.5,1192.1L1586.9,1167.9L1592.3,1178.1L1597.8,1171.1L1603.2,1165.1L1608.6,1167.9L1614.1,1173.1L1619.5,1202.5L1624.9,1195.2L1630.4,1188.9L1635.8,1193.1L1641.2,1203.6L1646.7,1203.9L1652.1,1210.6L1657.5,1218.3L1663,1187.1L1668.4,1186.5L1673.8,1187.2L1679.3,1188.5L1684.7,1192.7L1690.1,1204.3L1695.6,1212.7L1701,1215.9L1706.4,1219.3L1706.4,1144.0L0.2,1144.0z" fill="#d9362c" fill-opacity="0.17" clip-path="url(#c70)"/>
<path d="M0.2,1174.5L5.6,1181.2L11,1181.9L16.5,1171.2L21.9,1173.1L27.3,1171.9L32.8,1179.4L38.2,1191.5L43.6,1172.5L49.1,1168.8L54.5,1160.6L59.9,1157.5L65.4,1161.9L70.8,1160L76.2,1158.5L81.7,1158.8L87.1,1167.2L92.5,1165L98,1186L103.4,1181.9L108.8,1176.9L114.3,1176L119.7,1178.1L125.1,1183.1L130.6,1186.9L136,1182.5L141.4,1195.6L146.9,1160L152.3,1159L157.8,1151.2L163.2,1151.2L168.6,1137.5L174.1,1135.6L179.5,1134.8L184.9,1143.5L190.4,1139.4L195.8,1143.5L201.2,1147.8L206.7,1140.6L212.1,1141.2L217.5,1135.6L223,1129.8L228.4,1126.2L233.8,1122.8L239.3,1130L244.7,1129.8L250.1,1148.8L255.6,1147.8L261,1147.8L266.4,1160.6L271.9,1158.1L277.3,1144.4L282.7,1142.5L288.2,1151.2L293.6,1156L299,1148.1L304.5,1144L309.9,1142.5L315.3,1138.1L320.8,1140.6L326.2,1140.2L331.6,1139.4L337.1,1131.9L342.5,1138.8L347.9,1131.9L353.4,1125.6L358.8,1140.2L364.2,1155L369.7,1150L375.1,1144.8L380.5,1156.2L386,1141.9L391.4,1140.6L396.8,1139L402.3,1130.6L407.7,1127.5L413.2,1119.8L418.6,1118.5L424,1116.9L429.5,1123.5L434.9,1129.8L440.3,1125L445.8,1114.4L451.2,1112.8L456.6,1108.8L462.1,1107.8L467.5,1112.2L472.9,1106L478.4,1101.9L483.8,1100L489.2,1096.9L494.7,1144.4L500.1,1180.6L505.5,1164.4L511,1163.1L516.4,1179.4L521.8,1168.1L527.3,1175.6L532.7,1198.1L538.1,1189.8L543.6,1192.5L549,1185.6L554.4,1183.8L559.9,1186L565.3,1187.2L570.7,1177.2L576.2,1179.4L581.6,1179L587,1181.9L592.5,1168.8L597.9,1175L603.3,1186.2L608.8,1192.5L614.2,1188.1L619.6,1176.9L625.1,1175.6L630.5,1168.8L635.9,1168.5L641.4,1171L646.8,1164.4L652.2,1158.1L657.7,1158.1L663.1,1161.2L668.5,1157.2L674,1146.9L679.4,1154L684.9,1154.4L690.3,1189.4L695.7,1187.2L701.2,1203.1L706.6,1189.4L712,1176L717.5,1186.9L722.9,1207.5L728.3,1185L733.8,1200.6L739.2,1206L744.6,1222.2L750.1,1213.1L755.5,1207.5L760.9,1198.8L766.4,1187.8L771.8,1187.8L777.2,1183.5L782.7,1182.5L788.1,1171.5L793.5,1169.4L799,1169.4L804.4,1179.4L809.8,1175L815.3,1181.2L820.7,1174.8L826.1,1168.1L831.6,1167.2L837,1164.8L842.4,1166L847.9,1165.6L853.3,1179.8L858.7,1184.4L864.2,1188.8L869.6,1205.2L875,1180.2L880.5,1178.5L885.9,1169.4L891.3,1170L896.8,1166L902.2,1159L907.6,1164.8L913.1,1164L918.5,1180L923.9,1184.8L929.4,1193.1L934.8,1199.4L940.2,1182.8L945.7,1174.8L951.1,1167.8L956.6,1175L962,1175.6L967.4,1183.1L972.9,1177.8L978.3,1178.8L983.7,1175L989.2,1167.5L994.6,1160.6L1000,1154.8L1005.5,1158.1L1010.9,1154.8L1016.3,1156.5L1021.8,1153.8L1027.2,1147.5L1032.6,1144.4L1038.1,1144L1043.5,1140.6L1048.9,1132.8L1054.4,1146.2L1059.8,1172.2L1065.2,1156.9L1070.7,1151.2L1076.1,1163.8L1081.5,1221L1087,1219.4L1092.4,1240.6L1097.8,1259.4L1103.3,1228.1L1108.7,1230.2L1114.1,1203.8L1119.6,1200L1125,1203.1L1130.4,1203.8L1135.9,1197.2L1141.3,1203.1L1146.7,1194.8L1152.2,1186L1157.6,1174L1163,1186.5L1168.5,1186L1173.9,1191.2L1179.3,1185L1184.8,1182.2L1190.2,1177.8L1195.6,1179.8L1201.1,1179L1206.5,1170.6L1211.9,1166.2L1217.4,1165.6L1222.8,1159.8L1228.2,1167.5L1233.7,1173.1L1239.1,1172.8L1244.6,1181L1250,1173.8L1255.4,1164.4L1260.9,1166.2L1266.3,1169.8L1271.7,1193.1L1277.2,1173.8L1282.6,1164.4L1288,1167.8L1293.5,1161.9L1298.9,1159.8L1304.3,1161.2L1309.8,1158.5L1315.2,1161L1320.6,1156.9L1326.1,1152.2L1331.5,1159.4L1336.9,1156.9L1342.4,1174.8L1347.8,1161.2L1353.2,1158.5L1358.7,1158.5L1364.1,1168.1L1369.5,1161.2L1375,1149.8L1380.4,1152.5L1385.8,1148.5L1391.3,1146.2L1396.7,1142.2L1402.1,1139L1407.6,1141.9L1413,1144.8L1418.4,1136.5L1423.9,1144.4L1429.3,1149L1434.7,1145.6L1440.2,1142.7L1445.6,1150.4L1451,1177L1456.5,1160.5L1461.9,1157.7L1467.3,1156.6L1472.8,1160.6L1478.2,1156.4L1483.6,1157.1L1489.1,1153.9L1494.5,1150.4L1500,1159.9L1505.4,1155.3L1510.8,1157.4L1516.3,1175.3L1521.7,1178.7L1527.1,1173.1L1532.6,1183.3L1538,1174.9L1543.4,1165.8L1548.9,1161.3L1554.3,1157.7L1559.7,1151.5L1565.2,1156.7L1570.6,1168.6L1576,1190.7L1581.5,1192.1L1586.9,1167.9L1592.3,1178.1L1597.8,1171.1L1603.2,1165.1L1608.6,1167.9L1614.1,1173.1L1619.5,1202.5L1624.9,1195.2L1630.4,1188.9L1635.8,1193.1L1641.2,1203.6L1646.7,1203.9L1652.1,1210.6L1657.5,1218.3L1663,1187.1L1668.4,1186.5L1673.8,1187.2L1679.3,1188.5L1684.7,1192.7L1690.1,1204.3L1695.6,1212.7L1701,1215.9L1706.4,1219.3L1706.4,1232.7L0.2,1232.7z" fill="#5ba74b" fill-opacity="0.25" clip-path="url(#c30)"/>
<path d="M2,1144.0H2000M2,1232.7H2000" stroke="#a3c6f0" stroke-width="2" fill="none"/>
<path d="M0.2,1174.5L5.6,1181.2L11,1181.9L16.5,1171.2L21.9,1173.1L27.3,1171.9L32.8,1179.4L38.2,1191.5L43.6,1172.5L49.1,1168.8L54.5,1160.6L59.9,1157.5L65.4,1161.9L70.8,1160L76.2,1158.5L81.7,1158.8L87.1,1167.2L92.5,1165L98,1186L103.4,1181.9L108.8,1176.9L114.3,1176L119.7,1178.1L125.1,1183.1L130.6,1186.9L136,1182.5L141.4,1195.6L146.9,1160L152.3,1159L157.8,1151.2L163.2,1151.2L168.6,1137.5L174.1,1135.6L179.5,1134.8L184.9,1143.5L190.4,1139.4L195.8,1143.5L201.2,1147.8L206.7,1140.6L212.1,1141.2L217.5,1135.6L223,1129.8L228.4,1126.2L233.8,1122.8L239.3,1130L244.7,1129.8L250.1,1148.8L255.6,1147.8L261,1147.8L266.4,1160.6L271.9,1158.1L277.3,1144.4L282.7,1142.5L288.2,1151.2L293.6,1156L299,1148.1L304.5,1144L309.9,1142.5L315.3,1138.1L320.8,1140.6L326.2,1140.2L331.6,1139.4L337.1,1131.9L342.5,1138.8L347.9,1131.9L353.4,1125.6L358.8,1140.2L364.2,1155L369.7,1150L375.1,1144.8L380.5,1156.2L386,1141.9L391.4,1140.6L396.8,1139L402.3,1130.6L407.7,1127.5L413.2,1119.8L418.6,1118.5L424,1116.9L429.5,1123.5L434.9,1129.8L440.3,1125L445.8,1114.4L451.2,1112.8L456.6,1108.8L462.1,1107.8L467.5,1112.2L472.9,1106L478.4,1101.9L483.8,1100L489.2,1096.9L494.7,1144.4L500.1,1180.6L505.5,1164.4L511,1163.1L516.4,1179.4L521.8,1168.1L527.3,1175.6L532.7,1198.1L538.1,1189.8L543.6,1192.5L549,1185.6L554.4,1183.8L559.9,1186L565.3,1187.2L570.7,1177.2L576.2,1179.4L581.6,1179L587,1181.9L592.5,1168.8L597.9,1175L603.3,1186.2L608.8,1192.5L614.2,1188.1L619.6,1176.9L625.1,1175.6L630.5,1168.8L635.9,1168.5L641.4,1171L646.8,1164.4L652.2,1158.1L657.7,1158.1L663.1,1161.2L668.5,1157.2L674,1146.9L679.4,1154L684.9,1154.4L690.3,1189.4L695.7,1187.2L701.2,1203.1L706.6,1189.4L712,1176L717.5,1186.9L722.9,1207.5L728.3,1185L733.8,1200.6L739.2,1206L744.6,1222.2L750.1,1213.1L755.5,1207.5L760.9,1198.8L766.4,1187.8L771.8,1187.8L777.2,1183.5L782.7,1182.5L788.1,1171.5L793.5,1169.4L799,1169.4L804.4,1179.4L809.8,1175L815.3,1181.2L820.7,1174.8L826.1,1168.1L831.6,1167.2L837,1164.8L842.4,1166L847.9,1165.6L853.3,1179.8L858.7,1184.4L864.2,1188.8L869.6,1205.2L875,1180.2L880.5,1178.5L885.9,1169.4L891.3,1170L896.8,1166L902.2,1159L907.6,1164.8L913.1,1164L918.5,1180L923.9,1184.8L929.4,1193.1L934.8,1199.4L940.2,1182.8L945.7,1174.8L951.1,1167.8L956.6,1175L962,1175.6L967.4,1183.1L972.9,1177.8L978.3,1178.8L983.7,1175L989.2,1167.5L994.6,1160.6L1000,1154.8L1005.5,1158.1L1010.9,1154.8L1016.3,1156.5L1021.8,1153.8L1027.2,1147.5L1032.6,1144.4L1038.1,1144L1043.5,1140.6L1048.9,1132.8L1054.4,1146.2L1059.8,1172.2L1065.2,1156.9L1070.7,1151.2L1076.1,1163.8L1081.5,1221L1087,1219.4L1092.4,1240.6L1097.8,1259.4L1103.3,1228.1L1108.7,1230.2L1114.1,1203.8L1119.6,1200L1125,1203.1L1130.4,1203.8L1135.9,1197.2L1141.3,1203.1L1146.7,1194.8L1152.2,1186L1157.6,1174L1163,1186.5L1168.5,1186L1173.9,1191.2L1179.3,1185L1184.8,1182.2L1190.2,1177.8L1195.6,1179.8L1201.1,1179L1206.5,1170.6L1211.9,1166.2L1217.4,1165.6L1222.8,1159.8L1228.2,1167.5L1233.7,1173.1L1239.1,1172.8L1244.6,1181L1250,1173.8L1255.4,1164.4L1260.9,1166.2L1266.3,1169.8L1271.7,1193.1L1277.2,1173.8L1282.6,1164.4L1288,1167.8L1293.5,1161.9L1298.9,1159.8L1304.3,1161.2L1309.8,1158.5L1315.2,1161L1320.6,1156.9L1326.1,1152.2L1331.5,1159.4L1336.9,1156.9L1342.4,1174.8L1347.8,1161.2L1353.2,1158.5L1358.7,1158.5L1364.1,1168.1L1369.5,1161.2L1375,1149.8L1380.4,1152.5L1385.8,1148.5L1391.3,1146.2L1396.7,1142.2L1402.1,1139L1407.6,1141.9L1413,1144.8L1418.4,1136.5L1423.9,1144.4L1429.3,1149L1434.7,1145.6L1440.2,1142.7L1445.6,1150.4L1451,1177L1456.5,1160.5L1461.9,1157.7L1467.3,1156.6L1472.8,1160.6L1478.2,1156.4L1483.6,1157.1L1489.1,1153.9L1494.5,1150.4L1500,1159.9L1505.4,1155.3L1510.8,1157.4L1516.3,1175.3L1521.7,1178.7L1527.1,1173.1L1532.6,1183.3L1538,1174.9L1543.4,1165.8L1548.9,1161.3L1554.3,1157.7L1559.7,1151.5L1565.2,1156.7L1570.6,1168.6L1576,1190.7L1581.5,1192.1L1586.9,1167.9L1592.3,1178.1L1597.8,1171.1L1603.2,1165.1L1608.6,1167.9L1614.1,1173.1L1619.5,1202.5L1624.9,1195.2L1630.4,1188.9L1635.8,1193.1L1641.2,1203.6L1646.7,1203.9L1652.1,1210.6L1657.5,1218.3L1663,1187.1L1668.4,1186.5L1673.8,1187.2L1679.3,1188.5L1684.7,1192.7L1690.1,1204.3L1695.6,1212.7L1701,1215.9L1706.4,1219.3" stroke="#e2e2e4" stroke-width="1.7" fill="none" stroke-linejoin="round" clip-path="url(#cmid)"/>
<path d="M0.2,1174.5L5.6,1181.2L11,1181.9L16.5,1171.2L21.9,1173.1L27.3,1171.9L32.8,1179.4L38.2,1191.5L43.6,1172.5L49.1,1168.8L54.5,1160.6L59.9,1157.5L65.4,1161.9L70.8,1160L76.2,1158.5L81.7,1158.8L87.1,1167.2L92.5,1165L98,1186L103.4,1181.9L108.8,1176.9L114.3,1176L119.7,1178.1L125.1,1183.1L130.6,1186.9L136,1182.5L141.4,1195.6L146.9,1160L152.3,1159L157.8,1151.2L163.2,1151.2L168.6,1137.5L174.1,1135.6L179.5,1134.8L184.9,1143.5L190.4,1139.4L195.8,1143.5L201.2,1147.8L206.7,1140.6L212.1,1141.2L217.5,1135.6L223,1129.8L228.4,1126.2L233.8,1122.8L239.3,1130L244.7,1129.8L250.1,1148.8L255.6,1147.8L261,1147.8L266.4,1160.6L271.9,1158.1L277.3,1144.4L282.7,1142.5L288.2,1151.2L293.6,1156L299,1148.1L304.5,1144L309.9,1142.5L315.3,1138.1L320.8,1140.6L326.2,1140.2L331.6,1139.4L337.1,1131.9L342.5,1138.8L347.9,1131.9L353.4,1125.6L358.8,1140.2L364.2,1155L369.7,1150L375.1,1144.8L380.5,1156.2L386,1141.9L391.4,1140.6L396.8,1139L402.3,1130.6L407.7,1127.5L413.2,1119.8L418.6,1118.5L424,1116.9L429.5,1123.5L434.9,1129.8L440.3,1125L445.8,1114.4L451.2,1112.8L456.6,1108.8L462.1,1107.8L467.5,1112.2L472.9,1106L478.4,1101.9L483.8,1100L489.2,1096.9L494.7,1144.4L500.1,1180.6L505.5,1164.4L511,1163.1L516.4,1179.4L521.8,1168.1L527.3,1175.6L532.7,1198.1L538.1,1189.8L543.6,1192.5L549,1185.6L554.4,1183.8L559.9,1186L565.3,1187.2L570.7,1177.2L576.2,1179.4L581.6,1179L587,1181.9L592.5,1168.8L597.9,1175L603.3,1186.2L608.8,1192.5L614.2,1188.1L619.6,1176.9L625.1,1175.6L630.5,1168.8L635.9,1168.5L641.4,1171L646.8,1164.4L652.2,1158.1L657.7,1158.1L663.1,1161.2L668.5,1157.2L674,1146.9L679.4,1154L684.9,1154.4L690.3,1189.4L695.7,1187.2L701.2,1203.1L706.6,1189.4L712,1176L717.5,1186.9L722.9,1207.5L728.3,1185L733.8,1200.6L739.2,1206L744.6,1222.2L750.1,1213.1L755.5,1207.5L760.9,1198.8L766.4,1187.8L771.8,1187.8L777.2,1183.5L782.7,1182.5L788.1,1171.5L793.5,1169.4L799,1169.4L804.4,1179.4L809.8,1175L815.3,1181.2L820.7,1174.8L826.1,1168.1L831.6,1167.2L837,1164.8L842.4,1166L847.9,1165.6L853.3,1179.8L858.7,1184.4L864.2,1188.8L869.6,1205.2L875,1180.2L880.5,1178.5L885.9,1169.4L891.3,1170L896.8,1166L902.2,1159L907.6,1164.8L913.1,1164L918.5,1180L923.9,1184.8L929.4,1193.1L934.8,1199.4L940.2,1182.8L945.7,1174.8L951.1,1167.8L956.6,1175L962,1175.6L967.4,1183.1L972.9,1177.8L978.3,1178.8L983.7,1175L989.2,1167.5L994.6,1160.6L1000,1154.8L1005.5,1158.1L1010.9,1154.8L1016.3,1156.5L1021.8,1153.8L1027.2,1147.5L1032.6,1144.4L1038.1,1144L1043.5,1140.6L1048.9,1132.8L1054.4,1146.2L1059.8,1172.2L1065.2,1156.9L1070.7,1151.2L1076.1,1163.8L1081.5,1221L1087,1219.4L1092.4,1240.6L1097.8,1259.4L1103.3,1228.1L1108.7,1230.2L1114.1,1203.8L1119.6,1200L1125,1203.1L1130.4,1203.8L1135.9,1197.2L1141.3,1203.1L1146.7,1194.8L1152.2,1186L1157.6,1174L1163,1186.5L1168.5,1186L1173.9,1191.2L1179.3,1185L1184.8,1182.2L1190.2,1177.8L1195.6,1179.8L1201.1,1179L1206.5,1170.6L1211.9,1166.2L1217.4,1165.6L1222.8,1159.8L1228.2,1167.5L1233.7,1173.1L1239.1,1172.8L1244.6,1181L1250,1173.8L1255.4,1164.4L1260.9,1166.2L1266.3,1169.8L1271.7,1193.1L1277.2,1173.8L1282.6,1164.4L1288,1167.8L1293.5,1161.9L1298.9,1159.8L1304.3,1161.2L1309.8,1158.5L1315.2,1161L1320.6,1156.9L1326.1,1152.2L1331.5,1159.4L1336.9,1156.9L1342.4,1174.8L1347.8,1161.2L1353.2,1158.5L1358.7,1158.5L1364.1,1168.1L1369.5,1161.2L1375,1149.8L1380.4,1152.5L1385.8,1148.5L1391.3,1146.2L1396.7,1142.2L1402.1,1139L1407.6,1141.9L1413,1144.8L1418.4,1136.5L1423.9,1144.4L1429.3,1149L1434.7,1145.6L1440.2,1142.7L1445.6,1150.4L1451,1177L1456.5,1160.5L1461.9,1157.7L1467.3,1156.6L1472.8,1160.6L1478.2,1156.4L1483.6,1157.1L1489.1,1153.9L1494.5,1150.4L1500,1159.9L1505.4,1155.3L1510.8,1157.4L1516.3,1175.3L1521.7,1178.7L1527.1,1173.1L1532.6,1183.3L1538,1174.9L1543.4,1165.8L1548.9,1161.3L1554.3,1157.7L1559.7,1151.5L1565.2,1156.7L1570.6,1168.6L1576,1190.7L1581.5,1192.1L1586.9,1167.9L1592.3,1178.1L1597.8,1171.1L1603.2,1165.1L1608.6,1167.9L1614.1,1173.1L1619.5,1202.5L1624.9,1195.2L1630.4,1188.9L1635.8,1193.1L1641.2,1203.6L1646.7,1203.9L1652.1,1210.6L1657.5,1218.3L1663,1187.1L1668.4,1186.5L1673.8,1187.2L1679.3,1188.5L1684.7,1192.7L1690.1,1204.3L1695.6,1212.7L1701,1215.9L1706.4,1219.3" stroke="#d9362c" stroke-width="1.9" fill="none" stroke-linejoin="round" clip-path="url(#c70)"/>
<path d="M0.2,1174.5L5.6,1181.2L11,1181.9L16.5,1171.2L21.9,1173.1L27.3,1171.9L32.8,1179.4L38.2,1191.5L43.6,1172.5L49.1,1168.8L54.5,1160.6L59.9,1157.5L65.4,1161.9L70.8,1160L76.2,1158.5L81.7,1158.8L87.1,1167.2L92.5,1165L98,1186L103.4,1181.9L108.8,1176.9L114.3,1176L119.7,1178.1L125.1,1183.1L130.6,1186.9L136,1182.5L141.4,1195.6L146.9,1160L152.3,1159L157.8,1151.2L163.2,1151.2L168.6,1137.5L174.1,1135.6L179.5,1134.8L184.9,1143.5L190.4,1139.4L195.8,1143.5L201.2,1147.8L206.7,1140.6L212.1,1141.2L217.5,1135.6L223,1129.8L228.4,1126.2L233.8,1122.8L239.3,1130L244.7,1129.8L250.1,1148.8L255.6,1147.8L261,1147.8L266.4,1160.6L271.9,1158.1L277.3,1144.4L282.7,1142.5L288.2,1151.2L293.6,1156L299,1148.1L304.5,1144L309.9,1142.5L315.3,1138.1L320.8,1140.6L326.2,1140.2L331.6,1139.4L337.1,1131.9L342.5,1138.8L347.9,1131.9L353.4,1125.6L358.8,1140.2L364.2,1155L369.7,1150L375.1,1144.8L380.5,1156.2L386,1141.9L391.4,1140.6L396.8,1139L402.3,1130.6L407.7,1127.5L413.2,1119.8L418.6,1118.5L424,1116.9L429.5,1123.5L434.9,1129.8L440.3,1125L445.8,1114.4L451.2,1112.8L456.6,1108.8L462.1,1107.8L467.5,1112.2L472.9,1106L478.4,1101.9L483.8,1100L489.2,1096.9L494.7,1144.4L500.1,1180.6L505.5,1164.4L511,1163.1L516.4,1179.4L521.8,1168.1L527.3,1175.6L532.7,1198.1L538.1,1189.8L543.6,1192.5L549,1185.6L554.4,1183.8L559.9,1186L565.3,1187.2L570.7,1177.2L576.2,1179.4L581.6,1179L587,1181.9L592.5,1168.8L597.9,1175L603.3,1186.2L608.8,1192.5L614.2,1188.1L619.6,1176.9L625.1,1175.6L630.5,1168.8L635.9,1168.5L641.4,1171L646.8,1164.4L652.2,1158.1L657.7,1158.1L663.1,1161.2L668.5,1157.2L674,1146.9L679.4,1154L684.9,1154.4L690.3,1189.4L695.7,1187.2L701.2,1203.1L706.6,1189.4L712,1176L717.5,1186.9L722.9,1207.5L728.3,1185L733.8,1200.6L739.2,1206L744.6,1222.2L750.1,1213.1L755.5,1207.5L760.9,1198.8L766.4,1187.8L771.8,1187.8L777.2,1183.5L782.7,1182.5L788.1,1171.5L793.5,1169.4L799,1169.4L804.4,1179.4L809.8,1175L815.3,1181.2L820.7,1174.8L826.1,1168.1L831.6,1167.2L837,1164.8L842.4,1166L847.9,1165.6L853.3,1179.8L858.7,1184.4L864.2,1188.8L869.6,1205.2L875,1180.2L880.5,1178.5L885.9,1169.4L891.3,1170L896.8,1166L902.2,1159L907.6,1164.8L913.1,1164L918.5,1180L923.9,1184.8L929.4,1193.1L934.8,1199.4L940.2,1182.8L945.7,1174.8L951.1,1167.8L956.6,1175L962,1175.6L967.4,1183.1L972.9,1177.8L978.3,1178.8L983.7,1175L989.2,1167.5L994.6,1160.6L1000,1154.8L1005.5,1158.1L1010.9,1154.8L1016.3,1156.5L1021.8,1153.8L1027.2,1147.5L1032.6,1144.4L1038.1,1144L1043.5,1140.6L1048.9,1132.8L1054.4,1146.2L1059.8,1172.2L1065.2,1156.9L1070.7,1151.2L1076.1,1163.8L1081.5,1221L1087,1219.4L1092.4,1240.6L1097.8,1259.4L1103.3,1228.1L1108.7,1230.2L1114.1,1203.8L1119.6,1200L1125,1203.1L1130.4,1203.8L1135.9,1197.2L1141.3,1203.1L1146.7,1194.8L1152.2,1186L1157.6,1174L1163,1186.5L1168.5,1186L1173.9,1191.2L1179.3,1185L1184.8,1182.2L1190.2,1177.8L1195.6,1179.8L1201.1,1179L1206.5,1170.6L1211.9,1166.2L1217.4,1165.6L1222.8,1159.8L1228.2,1167.5L1233.7,1173.1L1239.1,1172.8L1244.6,1181L1250,1173.8L1255.4,1164.4L1260.9,1166.2L1266.3,1169.8L1271.7,1193.1L1277.2,1173.8L1282.6,1164.4L1288,1167.8L1293.5,1161.9L1298.9,1159.8L1304.3,1161.2L1309.8,1158.5L1315.2,1161L1320.6,1156.9L1326.1,1152.2L1331.5,1159.4L1336.9,1156.9L1342.4,1174.8L1347.8,1161.2L1353.2,1158.5L1358.7,1158.5L1364.1,1168.1L1369.5,1161.2L1375,1149.8L1380.4,1152.5L1385.8,1148.5L1391.3,1146.2L1396.7,1142.2L1402.1,1139L1407.6,1141.9L1413,1144.8L1418.4,1136.5L1423.9,1144.4L1429.3,1149L1434.7,1145.6L1440.2,1142.7L1445.6,1150.4L1451,1177L1456.5,1160.5L1461.9,1157.7L1467.3,1156.6L1472.8,1160.6L1478.2,1156.4L1483.6,1157.1L1489.1,1153.9L1494.5,1150.4L1500,1159.9L1505.4,1155.3L1510.8,1157.4L1516.3,1175.3L1521.7,1178.7L1527.1,1173.1L1532.6,1183.3L1538,1174.9L1543.4,1165.8L1548.9,1161.3L1554.3,1157.7L1559.7,1151.5L1565.2,1156.7L1570.6,1168.6L1576,1190.7L1581.5,1192.1L1586.9,1167.9L1592.3,1178.1L1597.8,1171.1L1603.2,1165.1L1608.6,1167.9L1614.1,1173.1L1619.5,1202.5L1624.9,1195.2L1630.4,1188.9L1635.8,1193.1L1641.2,1203.6L1646.7,1203.9L1652.1,1210.6L1657.5,1218.3L1663,1187.1L1668.4,1186.5L1673.8,1187.2L1679.3,1188.5L1684.7,1192.7L1690.1,1204.3L1695.6,1212.7L1701,1215.9L1706.4,1219.3" stroke="#5ba74b" stroke-width="1.9" fill="none" stroke-linejoin="round" clip-path="url(#c30)"/>
<text filter="url(#idf)" x="1899.5" y="73.8" font-size="22" fill="#ececec" text-anchor="start" letter-spacing="0.8" font-weight="normal" font-family="'Liberation Sans', sans-serif" >40000.0</text>
<text filter="url(#idf)" x="1899.5" y="250.8" font-size="22" fill="#ececec" text-anchor="start" letter-spacing="0.8" font-weight="normal" font-family="'Liberation Sans', sans-serif" >35000.0</text>
<text filter="url(#idf)" x="1899.5" y="429.8" font-size="22" fill="#ececec" text-anchor="start" letter-spacing="0.8" font-weight="normal" font-family="'Liberation Sans', sans-serif" >30000.0</text>
<text filter="url(#idf)" x="1899.5" y="608.8" font-size="22" fill="#ececec" text-anchor="start" letter-spacing="0.8" font-weight="normal" font-family="'Liberation Sans', sans-serif" >25000.0</text>
<text filter="url(#idf)" x="1899.5" y="787.8" font-size="22" fill="#ececec" text-anchor="start" letter-spacing="0.8" font-weight="normal" font-family="'Liberation Sans', sans-serif" >20000.0</text>
<text filter="url(#idf)" x="1899.5" y="966.8" font-size="22" fill="#ececec" text-anchor="start" letter-spacing="0.8" font-weight="normal" font-family="'Liberation Sans', sans-serif" >15000.0</text>
<rect x="1891.5" y="312.5" width="104.5" height="38.5" rx="4.5" fill="#d6d6dc"/>
<text filter="url(#idf)" x="1899.5" y="339.3" font-size="22" fill="#2a2d36" text-anchor="start" letter-spacing="0.8" font-weight="normal" font-family="'Liberation Sans', sans-serif" >32557.8</text>
<text filter="url(#idf)" x="1983.8" y="1151.8" font-size="22" fill="#ececec" text-anchor="end" letter-spacing="0.8" font-weight="normal" font-family="'Liberation Sans', sans-serif" >70</text>
<text filter="url(#idf)" x="1983.8" y="1240.5" font-size="22" fill="#ececec" text-anchor="end" letter-spacing="0.8" font-weight="normal" font-family="'Liberation Sans', sans-serif" >30</text>
<rect x="31" y="33.5" width="100.5" height="45" rx="3.5" fill="#1b1c22" fill-opacity="0.94"/>
<rect x="134" y="33.5" width="66" height="45" rx="3.5" fill="#1b1c22" fill-opacity="0.94"/>
<text filter="url(#idf)" x="46.5" y="65.8" font-size="21.8" fill="#d9d9dc" text-anchor="start" letter-spacing="-0.3" font-weight="normal" font-family="'Liberation Sans', sans-serif" >Weekly</text>
<text filter="url(#idf)" x="149" y="65.8" font-size="21.8" fill="#d9d9dc" text-anchor="start" letter-spacing="0.1" font-weight="normal" font-family="'Liberation Sans', sans-serif" >Mid</text>
<rect x="8" y="981.5" width="272" height="40" rx="3" fill="#1b1c22" fill-opacity="0.95"/>
<text filter="url(#idf)" x="21" y="1009.4" font-size="20" fill="#b4b5ba" text-anchor="start" letter-spacing="0.6" font-weight="normal" font-family="'Liberation Sans', sans-serif" >MA</text>
<text filter="url(#idf)" x="65.6" y="1009.6" font-size="20.5" fill="#9fd49a" text-anchor="start" letter-spacing="0" font-weight="normal" font-family="'Liberation Sans', sans-serif" textLength="26.5" lengthAdjust="spacingAndGlyphs">20</text>
<text filter="url(#idf)" x="105.6" y="1009.6" font-size="20.5" fill="#dcdcdf" text-anchor="start" letter-spacing="0" font-weight="normal" font-family="'Liberation Sans', sans-serif" textLength="26" lengthAdjust="spacingAndGlyphs">50</text>
<text filter="url(#idf)" x="145.4" y="1009.6" font-size="20.5" fill="#e98f8d" text-anchor="start" letter-spacing="0" font-weight="normal" font-family="'Liberation Sans', sans-serif" textLength="38.6" lengthAdjust="spacingAndGlyphs">100</text>
<text filter="url(#idf)" x="197.4" y="1009.6" font-size="20.5" fill="#f0a830" text-anchor="start" letter-spacing="0" font-weight="normal" font-family="'Liberation Sans', sans-serif" textLength="39.6" lengthAdjust="spacingAndGlyphs">200</text>
<path d="M251,995.5L263,1008.5M263,995.5L251,1008.5" stroke="#a3a4b3" stroke-width="3.4" fill="none"/>
<rect x="2" y="1025" width="756" height="31.7" fill="#1b212a" fill-opacity="0.78"/>
<text filter="url(#idf)" x="12.3" y="1046.4" font-size="20" fill="#4a90e2" text-anchor="start" letter-spacing="0.35" font-weight="normal" font-family="'Liberation Sans', sans-serif" >14816.3</text>
<text filter="url(#idf)" x="105.5" y="1046.4" font-size="20" fill="#4a90e2" text-anchor="start" letter-spacing="0.3" font-weight="normal" font-family="'Liberation Sans', sans-serif" >83.51%</text>
<text filter="url(#idf)" x="204.6" y="1046.4" font-size="20" fill="#e6e6e8" text-anchor="start" letter-spacing="0.35" font-weight="normal" font-family="'Liberation Sans', sans-serif" >H 36954.9</text>
<text filter="url(#idf)" x="318.3" y="1046.4" font-size="20" fill="#e6e6e8" text-anchor="start" letter-spacing="0.35" font-weight="normal" font-family="'Liberation Sans', sans-serif" >L 17063.5</text>
<text filter="url(#idf)" x="428.3" y="1046.4" font-size="20" fill="#8b8e9a" text-anchor="start" letter-spacing="-0.07" font-weight="normal" font-family="'Liberation Sans', sans-serif" >Mon 9 May 2016 - Mon 22 May 2023</text>
<rect x="8" y="1066" width="205.5" height="40" rx="3" fill="#1b1c22" fill-opacity="0.95"/>
<text filter="url(#idf)" x="21" y="1094" font-size="20" fill="#b4b5ba" text-anchor="start" letter-spacing="0" font-weight="normal" font-family="'Liberation Sans', sans-serif" textLength="28.5" lengthAdjust="spacingAndGlyphs">RSI</text>
<text filter="url(#idf)" x="65" y="1094.2" font-size="20.5" fill="#e6e6e8" text-anchor="start" letter-spacing="0" font-weight="normal" font-family="'Liberation Sans', sans-serif" textLength="25.6" lengthAdjust="spacingAndGlyphs">14</text>
<text filter="url(#idf)" x="104.4" y="1094.2" font-size="20.5" fill="#e6e6e8" text-anchor="start" letter-spacing="0" font-weight="normal" font-family="'Liberation Sans', sans-serif" textLength="26" lengthAdjust="spacingAndGlyphs">70</text>
<text filter="url(#idf)" x="143.6" y="1094.2" font-size="20.5" fill="#e6e6e8" text-anchor="start" letter-spacing="0" font-weight="normal" font-family="'Liberation Sans', sans-serif" textLength="26.4" lengthAdjust="spacingAndGlyphs">30</text>
<path d="M184,1080L196,1093M196,1080L184,1093" stroke="#a3a4b3" stroke-width="3.4" fill="none"/>
<text filter="url(#idf)" x="10.8" y="1310" font-size="16" fill="#5d606e" text-anchor="start" letter-spacing="0.1" font-weight="normal" font-family="'Liberation Sans', sans-serif" >Data is indicative</text>
<rect x="2" y="1320" width="73" height="31" fill="#1b1b20"/>
<text filter="url(#idf)" x="10.9" y="1343.2" font-size="21.5" fill="#f0f0f0" text-anchor="start" letter-spacing="1.45" font-weight="normal" font-family="'Liberation Sans', sans-serif" >2015</text>
<rect x="1002" y="1320" width="76" height="31" fill="#1b1b20"/>
<text filter="url(#idf)" x="190.0" y="1343.2" font-size="21.5" fill="#ececec" text-anchor="middle" letter-spacing="1.45" font-weight="normal" font-family="'Liberation Sans', sans-serif" >2017</text>
<text filter="url(#idf)" x="474.0" y="1343.2" font-size="21.5" fill="#ececec" text-anchor="middle" letter-spacing="1.45" font-weight="normal" font-family="'Liberation Sans', sans-serif" >2018</text>
<text filter="url(#idf)" x="757.0" y="1343.2" font-size="21.5" fill="#ececec" text-anchor="middle" letter-spacing="1.45" font-weight="normal" font-family="'Liberation Sans', sans-serif" >2019</text>
<text filter="url(#idf)" x="1041.0" y="1343.2" font-size="21.5" fill="#ececec" text-anchor="middle" letter-spacing="1.45" font-weight="normal" font-family="'Liberation Sans', sans-serif" >2020</text>
<text filter="url(#idf)" x="1324.0" y="1343.2" font-size="21.5" fill="#ececec" text-anchor="middle" letter-spacing="1.45" font-weight="normal" font-family="'Liberation Sans', sans-serif" >2021</text>
<text filter="url(#idf)" x="1608.0" y="1343.2" font-size="21.5" fill="#ececec" text-anchor="middle" letter-spacing="1.45" font-weight="normal" font-family="'Liberation Sans', sans-serif" >2022</text>
<text filter="url(#idf)" x="1891.0" y="1343.2" font-size="21.5" fill="#ececec" text-anchor="middle" letter-spacing="1.45" font-weight="normal" font-family="'Liberation Sans', sans-serif" >2023</text>
</svg>
</body></html>
